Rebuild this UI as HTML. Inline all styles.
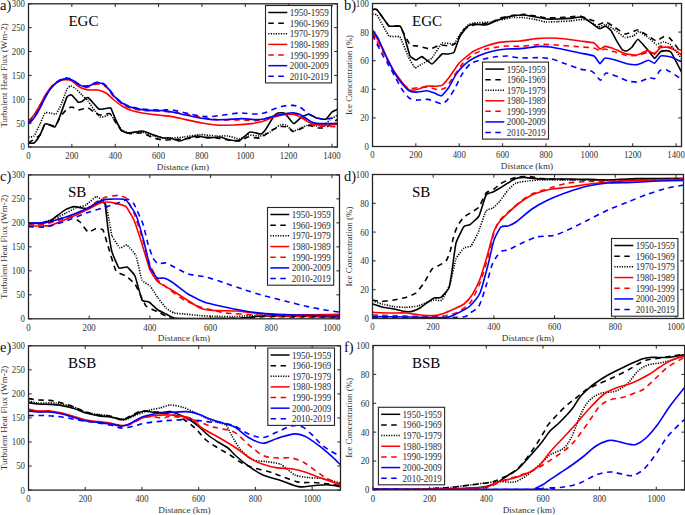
<!DOCTYPE html><html><head><meta charset="utf-8"><style>html,body{margin:0;padding:0;background:#fff;width:685px;height:515px;overflow:hidden}svg{display:block}</style></head><body>
<svg width="685" height="515" viewBox="0 0 685 515" font-family='"Liberation Serif", serif'>
<rect width="685" height="515" fill="#fff"/>
<clipPath id="clipa"><rect x="28.5" y="3.8" width="308.90" height="143.20"/></clipPath>
<g clip-path="url(#clipa)" fill="none" stroke-width="1.6" stroke-linejoin="round">
<path d="M28.40,143.00 C28.87,143.00 33.03,143.67 34.00,143.00 C34.97,142.33 39.08,136.58 40.00,135.00 C40.92,133.42 44.17,124.83 45.00,124.00 C45.83,123.17 49.17,124.75 50.00,125.00 C50.83,125.25 54.17,127.75 55.00,127.00 C55.83,126.25 59.00,118.50 60.00,116.00 C61.00,113.50 66.03,98.75 67.00,97.00 C67.97,95.25 70.68,94.58 71.60,95.00 C72.52,95.42 77.13,101.45 78.00,102.00 C78.87,102.55 81.17,101.97 82.00,101.60 C82.83,101.23 86.58,96.98 88.00,97.60 C89.42,98.22 97.25,108.13 99.00,109.00 C100.75,109.87 108.00,108.05 109.00,108.00 C110.00,107.95 110.50,107.57 111.00,108.40 C111.50,109.23 114.17,116.20 115.00,118.00 C115.83,119.80 119.92,128.75 121.00,130.00 C122.08,131.25 126.25,132.92 128.00,133.00 C129.75,133.08 139.83,130.83 142.00,131.00 C144.17,131.17 152.25,134.42 154.00,135.00 C155.75,135.58 161.67,137.75 163.00,138.00 C164.33,138.25 168.58,137.75 170.00,138.00 C171.42,138.25 178.50,141.00 180.00,141.00 C181.50,141.00 186.50,138.42 188.00,138.00 C189.50,137.58 196.33,136.00 198.00,136.00 C199.67,136.00 206.17,137.92 208.00,138.00 C209.83,138.08 218.17,136.83 220.00,137.00 C221.83,137.17 228.33,139.75 230.00,140.00 C231.67,140.25 238.33,140.67 240.00,140.00 C241.67,139.33 248.25,132.50 250.00,132.00 C251.75,131.50 259.67,134.25 261.00,134.00 C262.33,133.75 264.92,130.50 266.00,129.00 C267.08,127.50 273.00,117.33 274.00,116.00 C275.00,114.67 277.17,113.25 278.00,113.00 C278.83,112.75 283.22,112.72 284.00,113.00 C284.78,113.28 286.58,115.42 287.40,116.30 C288.22,117.17 292.67,123.40 293.80,123.50 C294.93,123.60 299.73,118.27 301.00,117.50 C302.27,116.73 307.66,114.23 309.00,114.30 C310.34,114.37 315.68,117.91 317.10,118.30 C318.52,118.69 324.79,119.50 326.00,119.00 C327.21,118.50 330.60,113.13 331.60,112.30 C332.60,111.47 337.47,109.28 338.00,109.00" stroke="#000"/>
<path d="M28.40,143.00 C29.37,142.33 38.62,136.58 40.00,135.00 C41.38,133.42 43.75,124.75 45.00,124.00 C46.25,123.25 53.67,126.67 55.00,126.00 C56.33,125.33 60.00,117.42 61.00,116.00 C62.00,114.58 66.08,109.75 67.00,109.00 C67.92,108.25 71.08,106.92 72.00,107.00 C72.92,107.08 76.67,109.92 78.00,110.00 C79.33,110.08 86.67,107.83 88.00,108.00 C89.33,108.17 93.00,111.42 94.00,112.00 C95.00,112.58 98.67,114.87 100.00,115.00 C101.33,115.13 108.67,112.93 110.00,113.60 C111.33,114.27 115.00,121.55 116.00,123.00 C117.00,124.45 120.83,130.12 122.00,131.00 C123.17,131.88 128.33,133.43 130.00,133.60 C131.67,133.77 140.00,132.63 142.00,133.00 C144.00,133.37 152.25,137.42 154.00,138.00 C155.75,138.58 161.50,139.87 163.00,140.00 C164.50,140.13 170.25,139.68 172.00,139.60 C173.75,139.52 181.67,139.22 184.00,139.00 C186.33,138.78 197.33,137.08 200.00,137.00 C202.67,136.92 213.50,137.72 216.00,138.00 C218.50,138.28 228.00,140.15 230.00,140.40 C232.00,140.65 238.50,141.28 240.00,141.00 C241.50,140.72 246.33,137.25 248.00,137.00 C249.67,136.75 258.00,138.58 260.00,138.00 C262.00,137.42 270.33,130.95 272.00,130.00 C273.67,129.05 278.67,126.85 280.00,126.60 C281.33,126.35 286.92,126.59 288.00,127.00 C289.08,127.41 291.92,131.36 293.00,131.50 C294.08,131.64 299.67,129.20 301.00,128.70 C302.33,128.20 307.52,125.56 309.00,125.50 C310.48,125.44 317.28,127.83 318.70,128.00 C320.12,128.17 324.89,127.92 326.00,127.50 C327.11,127.08 331.00,123.71 332.00,123.00 C333.00,122.29 337.50,119.33 338.00,119.00" stroke="#000" stroke-dasharray="5.5,4.5"/>
<path d="M28.40,137.00 C28.87,136.92 33.03,137.08 34.00,136.00 C34.97,134.92 39.08,125.92 40.00,124.00 C40.92,122.08 44.17,113.92 45.00,113.00 C45.83,112.08 49.08,112.92 50.00,113.00 C50.92,113.08 55.08,114.67 56.00,114.00 C56.92,113.33 60.08,107.08 61.00,105.00 C61.92,102.92 66.17,90.58 67.00,89.00 C67.83,87.42 70.25,86.00 71.00,86.00 C71.75,86.00 75.08,88.25 76.00,89.00 C76.92,89.75 81.00,94.00 82.00,95.00 C83.00,96.00 86.92,99.67 88.00,101.00 C89.08,102.33 94.00,109.67 95.00,111.00 C96.00,112.33 99.08,116.58 100.00,117.00 C100.92,117.42 105.17,116.25 106.00,116.00 C106.83,115.75 109.17,113.50 110.00,114.00 C110.83,114.50 115.00,120.67 116.00,122.00 C117.00,123.33 120.83,129.08 122.00,130.00 C123.17,130.92 128.33,132.83 130.00,133.00 C131.67,133.17 140.00,131.75 142.00,132.00 C144.00,132.25 152.25,135.50 154.00,136.00 C155.75,136.50 161.50,137.83 163.00,138.00 C164.50,138.17 170.25,138.08 172.00,138.00 C173.75,137.92 181.67,137.28 184.00,137.00 C186.33,136.72 197.33,134.68 200.00,134.60 C202.67,134.52 213.67,135.88 216.00,136.00 C218.33,136.12 226.00,135.75 228.00,136.00 C230.00,136.25 238.33,139.08 240.00,139.00 C241.67,138.92 246.33,135.25 248.00,135.00 C249.67,134.75 258.17,136.25 260.00,136.00 C261.83,135.75 268.33,132.92 270.00,132.00 C271.67,131.08 278.67,125.58 280.00,125.00 C281.33,124.42 284.92,124.49 286.00,125.00 C287.08,125.51 291.75,130.86 293.00,131.10 C294.25,131.34 299.67,128.43 301.00,127.90 C302.33,127.37 307.66,124.87 309.00,124.70 C310.34,124.53 315.75,125.97 317.10,125.90 C318.45,125.83 324.12,124.40 325.20,123.90 C326.27,123.40 328.93,120.68 330.00,119.90 C331.07,119.12 337.33,114.95 338.00,114.50" stroke="#000" stroke-dasharray="1.2,1.3"/>
<path d="M28.40,121.00 C29.33,120.00 32.07,117.67 34.00,115.00 C35.93,112.33 38.00,108.50 40.00,105.00 C42.00,101.50 44.00,97.17 46.00,94.00 C48.00,90.83 49.83,88.17 52.00,86.00 C54.17,83.83 56.67,82.07 59.00,81.00 C61.33,79.93 63.83,79.60 66.00,79.60 C68.17,79.60 70.00,79.93 72.00,81.00 C74.00,82.07 76.00,84.67 78.00,86.00 C80.00,87.33 82.00,88.33 84.00,89.00 C86.00,89.67 87.67,89.83 90.00,90.00 C92.33,90.17 95.33,89.50 98.00,90.00 C100.67,90.50 103.33,91.33 106.00,93.00 C108.67,94.67 111.33,97.83 114.00,100.00 C116.67,102.17 119.33,104.33 122.00,106.00 C124.67,107.67 126.67,108.83 130.00,110.00 C133.33,111.17 138.00,112.23 142.00,113.00 C146.00,113.77 150.50,114.17 154.00,114.60 C157.50,115.03 160.00,115.27 163.00,115.60 C166.00,115.93 168.17,115.93 172.00,116.60 C175.83,117.27 181.33,118.60 186.00,119.60 C190.67,120.60 195.00,121.70 200.00,122.60 C205.00,123.50 210.33,124.60 216.00,125.00 C221.67,125.40 228.00,125.23 234.00,125.00 C240.00,124.77 247.00,124.27 252.00,123.60 C257.00,122.93 260.33,122.10 264.00,121.00 C267.67,119.90 270.67,118.07 274.00,117.00 C277.33,115.93 280.83,115.05 284.00,114.60 C287.17,114.15 290.42,113.95 293.00,114.30 C295.58,114.65 297.22,115.57 299.50,116.70 C301.78,117.83 304.30,119.83 306.70,121.10 C309.10,122.37 310.82,123.63 313.90,124.30 C316.98,124.97 321.18,125.10 325.20,125.10 C329.22,125.10 335.87,124.43 338.00,124.30" stroke="#ff0000"/>
<path d="M28.40,122.00 C29.33,121.00 32.07,118.67 34.00,116.00 C35.93,113.33 38.00,109.50 40.00,106.00 C42.00,102.50 44.00,98.25 46.00,95.00 C48.00,91.75 49.83,88.83 52.00,86.50 C54.17,84.17 56.67,82.28 59.00,81.00 C61.33,79.72 63.83,78.88 66.00,78.80 C68.17,78.72 70.00,79.55 72.00,80.50 C74.00,81.45 76.00,83.33 78.00,84.50 C80.00,85.67 82.00,87.17 84.00,87.50 C86.00,87.83 87.67,87.08 90.00,86.50 C92.33,85.92 95.33,83.92 98.00,84.00 C100.67,84.08 103.33,84.83 106.00,87.00 C108.67,89.17 111.33,94.17 114.00,97.00 C116.67,99.83 119.33,102.17 122.00,104.00 C124.67,105.83 126.67,106.92 130.00,108.00 C133.33,109.08 137.00,110.00 142.00,110.50 C147.00,111.00 152.67,110.42 160.00,111.00 C167.33,111.58 179.33,113.00 186.00,114.00 C192.67,115.00 195.00,116.07 200.00,117.00 C205.00,117.93 209.33,119.10 216.00,119.60 C222.67,120.10 233.33,119.83 240.00,120.00 C246.67,120.17 251.33,120.93 256.00,120.60 C260.67,120.27 264.00,118.93 268.00,118.00 C272.00,117.07 276.33,115.73 280.00,115.00 C283.67,114.27 286.75,113.52 290.00,113.60 C293.25,113.68 296.83,114.43 299.50,115.50 C302.17,116.57 303.60,118.33 306.00,120.00 C308.40,121.67 310.70,124.45 313.90,125.50 C317.10,126.55 321.18,126.10 325.20,126.30 C329.22,126.50 335.87,126.63 338.00,126.70" stroke="#ff0000" stroke-dasharray="5.5,4.5"/>
<path d="M28.40,124.00 C29.33,123.00 32.07,120.67 34.00,118.00 C35.93,115.33 38.00,111.67 40.00,108.00 C42.00,104.33 44.00,99.50 46.00,96.00 C48.00,92.50 49.83,89.50 52.00,87.00 C54.17,84.50 56.67,82.40 59.00,81.00 C61.33,79.60 63.83,78.77 66.00,78.60 C68.17,78.43 70.00,79.10 72.00,80.00 C74.00,80.90 76.00,82.90 78.00,84.00 C80.00,85.10 82.00,86.33 84.00,86.60 C86.00,86.87 87.67,86.27 90.00,85.60 C92.33,84.93 95.33,82.53 98.00,82.60 C100.67,82.67 103.33,83.77 106.00,86.00 C108.67,88.23 111.33,93.17 114.00,96.00 C116.67,98.83 119.33,101.17 122.00,103.00 C124.67,104.83 126.67,105.90 130.00,107.00 C133.33,108.10 138.00,109.00 142.00,109.60 C146.00,110.20 150.50,110.43 154.00,110.60 C157.50,110.77 160.00,110.37 163.00,110.60 C166.00,110.83 168.17,111.27 172.00,112.00 C175.83,112.73 181.33,114.00 186.00,115.00 C190.67,116.00 195.67,117.23 200.00,118.00 C204.33,118.77 207.67,119.33 212.00,119.60 C216.33,119.87 221.00,119.77 226.00,119.60 C231.00,119.43 237.33,118.60 242.00,118.60 C246.67,118.60 250.33,119.53 254.00,119.60 C257.67,119.67 260.67,119.60 264.00,119.00 C267.33,118.40 270.67,116.83 274.00,116.00 C277.33,115.17 280.83,114.55 284.00,114.00 C287.17,113.45 290.42,112.65 293.00,112.70 C295.58,112.75 297.35,113.37 299.50,114.30 C301.65,115.23 303.90,117.03 305.90,118.30 C307.90,119.57 309.37,121.03 311.50,121.90 C313.63,122.77 314.28,123.23 318.70,123.50 C323.12,123.77 334.78,123.50 338.00,123.50" stroke="#0000ff"/>
<path d="M28.40,123.50 C29.33,122.50 32.07,120.17 34.00,117.50 C35.93,114.83 38.00,111.17 40.00,107.50 C42.00,103.83 44.00,99.00 46.00,95.50 C48.00,92.00 49.83,89.00 52.00,86.50 C54.17,84.00 56.67,81.92 59.00,80.50 C61.33,79.08 63.83,78.17 66.00,78.00 C68.17,77.83 70.00,78.58 72.00,79.50 C74.00,80.42 76.00,82.42 78.00,83.50 C80.00,84.58 82.00,85.75 84.00,86.00 C86.00,86.25 87.67,85.67 90.00,85.00 C92.33,84.33 95.33,81.92 98.00,82.00 C100.67,82.08 103.33,83.25 106.00,85.50 C108.67,87.75 111.33,92.67 114.00,95.50 C116.67,98.33 119.33,100.67 122.00,102.50 C124.67,104.33 126.67,105.42 130.00,106.50 C133.33,107.58 137.00,108.42 142.00,109.00 C147.00,109.58 155.00,109.83 160.00,110.00 C165.00,110.17 167.67,109.50 172.00,110.00 C176.33,110.50 181.33,112.00 186.00,113.00 C190.67,114.00 196.00,115.40 200.00,116.00 C204.00,116.60 206.00,116.77 210.00,116.60 C214.00,116.43 219.00,115.60 224.00,115.00 C229.00,114.40 235.00,113.17 240.00,113.00 C245.00,112.83 250.00,114.00 254.00,114.00 C258.00,114.00 260.67,113.83 264.00,113.00 C267.33,112.17 270.67,110.17 274.00,109.00 C277.33,107.83 280.83,106.60 284.00,106.00 C287.17,105.40 290.42,105.23 293.00,105.40 C295.58,105.57 297.62,106.18 299.50,107.00 C301.38,107.82 302.72,109.08 304.30,110.30 C305.88,111.52 306.60,112.97 309.00,114.30 C311.40,115.63 315.87,117.52 318.70,118.30 C321.53,119.08 323.58,119.13 326.00,119.00 C328.42,118.87 331.20,118.08 333.20,117.50 C335.20,116.92 337.20,115.83 338.00,115.50" stroke="#0000ff" stroke-dasharray="5.5,4.5"/>
</g>
<text x="28.50" y="158.80" font-size="9.6" text-anchor="middle" textLength="4.38" lengthAdjust="spacingAndGlyphs" fill="#333">0</text>
<text x="71.85" y="158.80" font-size="9.6" text-anchor="middle" textLength="13.14" lengthAdjust="spacingAndGlyphs" fill="#333">200</text>
<text x="115.21" y="158.80" font-size="9.6" text-anchor="middle" textLength="13.14" lengthAdjust="spacingAndGlyphs" fill="#333">400</text>
<text x="158.56" y="158.80" font-size="9.6" text-anchor="middle" textLength="13.14" lengthAdjust="spacingAndGlyphs" fill="#333">600</text>
<text x="201.92" y="158.80" font-size="9.6" text-anchor="middle" textLength="13.14" lengthAdjust="spacingAndGlyphs" fill="#333">800</text>
<text x="245.27" y="158.80" font-size="9.6" text-anchor="middle" textLength="17.52" lengthAdjust="spacingAndGlyphs" fill="#333">1000</text>
<text x="288.63" y="158.80" font-size="9.6" text-anchor="middle" textLength="17.52" lengthAdjust="spacingAndGlyphs" fill="#333">1200</text>
<text x="331.98" y="158.80" font-size="9.6" text-anchor="middle" textLength="17.52" lengthAdjust="spacingAndGlyphs" fill="#333">1400</text>
<text x="25.00" y="150.40" font-size="9.6" text-anchor="end" textLength="4.38" lengthAdjust="spacingAndGlyphs" fill="#333">0</text>
<text x="25.00" y="126.53" font-size="9.6" text-anchor="end" textLength="8.76" lengthAdjust="spacingAndGlyphs" fill="#333">50</text>
<text x="25.00" y="102.67" font-size="9.6" text-anchor="end" textLength="13.14" lengthAdjust="spacingAndGlyphs" fill="#333">100</text>
<text x="25.00" y="78.80" font-size="9.6" text-anchor="end" textLength="13.14" lengthAdjust="spacingAndGlyphs" fill="#333">150</text>
<text x="25.00" y="54.93" font-size="9.6" text-anchor="end" textLength="13.14" lengthAdjust="spacingAndGlyphs" fill="#333">200</text>
<text x="25.00" y="31.07" font-size="9.6" text-anchor="end" textLength="13.14" lengthAdjust="spacingAndGlyphs" fill="#333">250</text>
<text x="25.00" y="7.20" font-size="9.6" text-anchor="end" textLength="13.14" lengthAdjust="spacingAndGlyphs" fill="#333">300</text>
<path d="M28.50,147.00V143.80M28.50,3.80V7.00M71.85,147.00V143.80M71.85,3.80V7.00M115.21,147.00V143.80M115.21,3.80V7.00M158.56,147.00V143.80M158.56,3.80V7.00M201.92,147.00V143.80M201.92,3.80V7.00M245.27,147.00V143.80M245.27,3.80V7.00M288.63,147.00V143.80M288.63,3.80V7.00M331.98,147.00V143.80M331.98,3.80V7.00M28.50,147.00H31.70M337.40,147.00H334.20M28.50,123.13H31.70M337.40,123.13H334.20M28.50,99.27H31.70M337.40,99.27H334.20M28.50,75.40H31.70M337.40,75.40H334.20M28.50,51.53H31.70M337.40,51.53H334.20M28.50,27.67H31.70M337.40,27.67H334.20M28.50,3.80H31.70M337.40,3.80H334.20" stroke="#262626" stroke-width="1" fill="none"/>
<rect x="28.5" y="3.8" width="308.90" height="143.20" fill="none" stroke="#262626" stroke-width="1.3"/>
<text x="182.95" y="169.60" font-size="9.2" text-anchor="middle" fill="#333">Distance (km)</text>
<text transform="translate(6.70,75.40) rotate(-90)" font-size="9" text-anchor="middle" fill="#333">Turbulent Heat Flux (Wm-2)</text>
<rect x="265.5" y="5.5" width="66.00" height="77.40" fill="#fff" stroke="#262626" stroke-width="1.1"/>
<path d="M268.30,12.50H287.30" stroke="#000" stroke-width="1.5"/>
<text x="289.70" y="16.00" font-size="10.2" textLength="39.2" lengthAdjust="spacingAndGlyphs" fill="#2a2a2a">1950-1959</text>
<path d="M268.30,23.13H287.30" stroke="#000" stroke-width="1.5" stroke-dasharray="5.5,4.5"/>
<text x="289.70" y="26.63" font-size="10.2" textLength="39.2" lengthAdjust="spacingAndGlyphs" fill="#2a2a2a">1960-1969</text>
<path d="M268.30,33.77H287.30" stroke="#000" stroke-width="1.5" stroke-dasharray="1.2,1.3"/>
<text x="289.70" y="37.27" font-size="10.2" textLength="39.2" lengthAdjust="spacingAndGlyphs" fill="#2a2a2a">1970-1979</text>
<path d="M268.30,44.40H287.30" stroke="#ff0000" stroke-width="1.5"/>
<text x="289.70" y="47.90" font-size="10.2" textLength="39.2" lengthAdjust="spacingAndGlyphs" fill="#2a2a2a">1980-1989</text>
<path d="M268.30,55.03H287.30" stroke="#ff0000" stroke-width="1.5" stroke-dasharray="5.5,4.5"/>
<text x="289.70" y="58.53" font-size="10.2" textLength="39.2" lengthAdjust="spacingAndGlyphs" fill="#2a2a2a">1990-1999</text>
<path d="M268.30,65.67H287.30" stroke="#0000ff" stroke-width="1.5"/>
<text x="289.70" y="69.17" font-size="10.2" textLength="39.2" lengthAdjust="spacingAndGlyphs" fill="#2a2a2a">2000-2009</text>
<path d="M268.30,76.30H287.30" stroke="#0000ff" stroke-width="1.5" stroke-dasharray="5.5,4.5"/>
<text x="289.70" y="79.80" font-size="10.2" textLength="39.2" lengthAdjust="spacingAndGlyphs" fill="#2a2a2a">2010-2019</text>
<clipPath id="clipb"><rect x="372.5" y="3.5" width="309.00" height="143.00"/></clipPath>
<g clip-path="url(#clipb)" fill="none" stroke-width="1.6" stroke-linejoin="round">
<path d="M372.40,9.60 C372.63,9.60 376.17,8.78 377.00,9.60 C377.83,10.42 387.85,25.18 389.00,26.00 C390.15,26.82 399.25,25.55 400.00,26.00 C400.75,26.45 403.50,33.50 404.00,35.00 C404.50,36.50 409.40,54.75 410.00,56.00 C410.60,57.25 415.40,59.97 416.00,60.00 C416.60,60.03 421.20,56.40 422.00,56.60 C422.80,56.80 431.00,64.13 432.00,64.00 C433.00,63.87 441.20,54.50 442.00,54.00 C442.80,53.50 447.40,54.08 448.00,54.00 C448.60,53.92 453.40,53.30 454.00,52.40 C454.60,51.50 459.30,37.32 460.00,36.00 C460.70,34.68 467.30,26.60 468.00,26.00 C468.70,25.40 473.10,24.05 474.00,24.00 C474.90,23.95 484.80,25.20 486.00,25.00 C487.20,24.80 496.70,20.45 498.00,20.00 C499.30,19.55 510.70,16.25 512.00,16.00 C513.30,15.75 522.80,14.95 524.00,15.00 C525.20,15.05 534.90,16.80 536.00,17.00 C537.10,17.20 544.90,18.90 546.00,19.00 C547.10,19.10 556.80,19.03 558.00,19.00 C559.20,18.97 568.90,18.50 570.00,18.40 C571.10,18.30 579.20,16.97 580.00,17.00 C580.80,17.03 585.30,18.60 586.00,19.00 C586.70,19.40 593.32,24.51 594.00,25.00 C594.68,25.49 599.01,28.74 599.60,28.80 C600.19,28.86 605.13,26.11 605.70,26.20 C606.27,26.29 610.48,29.90 611.00,30.60 C611.52,31.30 615.63,39.24 616.20,40.20 C616.77,41.16 621.77,49.26 622.30,49.80 C622.82,50.34 626.22,51.13 626.70,51.00 C627.18,50.87 631.34,47.79 631.90,47.20 C632.46,46.62 637.22,39.17 638.00,39.30 C638.78,39.43 646.77,48.84 647.60,49.80 C648.43,50.76 653.95,58.41 654.60,58.50 C655.25,58.59 660.09,51.90 660.70,51.50 C661.31,51.10 666.27,50.55 666.80,50.60 C667.32,50.65 670.44,51.28 671.20,52.40 C671.96,53.52 681.46,71.97 682.00,73.00" stroke="#000"/>
<path d="M372.40,9.60 C372.63,9.60 376.17,8.78 377.00,9.60 C377.83,10.42 387.85,25.16 389.00,26.00 C390.15,26.84 398.95,25.55 400.00,26.50 C401.05,27.45 409.10,44.02 410.00,45.00 C410.90,45.98 417.00,45.80 418.00,46.00 C419.00,46.20 428.90,49.05 430.00,49.00 C431.10,48.95 439.00,45.15 440.00,45.00 C441.00,44.85 449.20,46.10 450.00,46.00 C450.80,45.90 455.30,43.85 456.00,43.00 C456.70,42.15 463.10,29.90 464.00,29.00 C464.90,28.10 472.70,25.30 474.00,25.00 C475.30,24.70 488.70,23.35 490.00,23.00 C491.30,22.65 498.90,18.37 500.00,18.00 C501.10,17.63 510.80,15.78 512.00,15.60 C513.20,15.42 522.80,14.38 524.00,14.40 C525.20,14.42 534.90,15.82 536.00,16.00 C537.10,16.18 544.90,17.92 546.00,18.00 C547.10,18.08 556.80,17.65 558.00,17.60 C559.20,17.55 568.90,17.08 570.00,17.00 C571.10,16.92 579.20,15.95 580.00,16.00 C580.80,16.05 585.30,17.75 586.00,18.00 C586.70,18.25 593.37,20.68 594.00,21.00 C594.63,21.32 598.12,24.46 598.70,24.50 C599.29,24.54 604.91,21.67 605.70,21.80 C606.49,21.93 613.54,26.49 614.50,27.10 C615.46,27.71 624.03,33.74 624.90,34.00 C625.77,34.26 631.25,32.52 631.90,32.30 C632.55,32.08 637.12,29.48 638.00,29.70 C638.88,29.92 648.48,36.14 649.40,36.70 C650.32,37.27 655.69,41.00 656.40,41.00 C657.11,41.00 662.88,36.88 663.50,36.70 C664.12,36.53 668.38,37.20 668.90,37.50 C669.41,37.80 673.14,41.95 673.80,42.80 C674.45,43.65 681.59,53.91 682.00,54.50" stroke="#000" stroke-dasharray="5.5,4.5"/>
<path d="M372.40,14.00 C372.63,14.05 376.17,13.90 377.00,15.00 C377.83,16.10 387.85,34.90 389.00,36.00 C390.15,37.10 399.05,36.00 400.00,37.00 C400.95,38.00 407.25,54.45 408.00,56.00 C408.75,57.55 414.30,67.60 415.00,68.00 C415.70,68.40 421.15,64.50 422.00,64.00 C422.85,63.50 431.00,59.05 432.00,58.00 C433.00,56.95 440.90,43.70 442.00,43.00 C443.10,42.30 453.10,44.45 454.00,44.00 C454.90,43.55 459.30,34.95 460.00,34.00 C460.70,33.05 467.30,25.55 468.00,25.00 C468.70,24.45 472.90,23.15 474.00,23.00 C475.10,22.85 488.70,22.15 490.00,22.00 C491.30,21.85 498.90,20.22 500.00,20.00 C501.10,19.78 510.80,17.72 512.00,17.60 C513.20,17.48 522.80,17.50 524.00,17.60 C525.20,17.70 534.90,19.38 536.00,19.60 C537.10,19.82 544.90,21.90 546.00,22.00 C547.10,22.10 556.80,21.65 558.00,21.60 C559.20,21.55 568.90,21.10 570.00,21.00 C571.10,20.90 579.20,19.65 580.00,19.60 C580.80,19.55 585.30,19.78 586.00,20.00 C586.70,20.22 593.37,23.64 594.00,24.00 C594.63,24.36 598.12,27.08 598.70,27.10 C599.29,27.12 604.91,24.37 605.70,24.50 C606.49,24.63 613.54,29.05 614.50,29.70 C615.46,30.35 623.94,37.20 624.90,37.50 C625.86,37.80 633.00,36.10 633.70,35.80 C634.40,35.49 638.12,31.27 638.90,31.40 C639.68,31.53 648.52,37.74 649.40,38.40 C650.27,39.05 655.69,44.33 656.40,44.50 C657.11,44.67 662.80,41.90 663.50,41.90 C664.20,41.90 669.38,43.65 670.30,44.50 C671.22,45.35 681.41,58.27 682.00,59.00" stroke="#000" stroke-dasharray="1.2,1.3"/>
<path d="M372.40,32.00 C372.87,32.67 376.87,38.00 378.00,40.00 C379.13,42.00 384.67,53.42 386.00,56.00 C387.33,58.58 392.68,68.84 394.00,71.00 C395.32,73.16 400.63,80.33 401.90,81.90 C403.17,83.48 407.86,89.29 409.20,89.90 C410.54,90.51 416.54,89.53 418.00,89.20 C419.46,88.88 425.24,86.24 426.70,86.00 C428.16,85.76 434.16,86.40 435.50,86.30 C436.84,86.20 441.58,85.65 442.80,84.80 C444.02,83.95 448.77,77.87 450.10,76.10 C451.43,74.33 457.48,65.19 458.80,63.60 C460.12,62.01 464.73,58.05 466.00,57.00 C467.27,55.95 472.33,51.92 474.00,51.00 C475.67,50.08 484.00,46.70 486.00,46.00 C488.00,45.30 496.25,42.97 498.00,42.60 C499.75,42.23 505.17,41.73 507.00,41.60 C508.83,41.47 517.58,41.25 520.00,41.00 C522.42,40.75 533.50,38.85 536.00,38.60 C538.50,38.35 547.50,37.97 550.00,38.00 C552.50,38.03 563.50,38.75 566.00,39.00 C568.50,39.25 577.67,40.67 580.00,41.00 C582.33,41.33 592.33,42.33 594.00,43.00 C595.67,43.67 599.08,48.72 600.00,49.00 C600.92,49.28 604.00,46.48 605.00,46.40 C606.00,46.32 611.07,47.72 612.00,48.00 C612.93,48.28 614.98,49.29 616.20,49.80 C617.43,50.31 624.95,53.67 626.70,54.10 C628.45,54.53 635.46,55.29 637.20,55.00 C638.94,54.71 646.15,50.68 647.60,50.60 C649.05,50.52 653.58,54.32 654.60,54.10 C655.62,53.88 658.88,48.58 659.90,48.00 C660.92,47.42 665.49,46.98 666.80,47.20 C668.11,47.42 674.33,49.95 675.60,50.60 C676.87,51.25 681.47,54.63 682.00,55.00" stroke="#ff0000"/>
<path d="M372.40,33.00 C373.53,35.08 384.20,54.75 386.00,58.00 C387.80,61.25 392.68,69.88 394.00,72.00 C395.32,74.12 400.63,82.03 401.90,83.40 C403.17,84.78 407.86,88.14 409.20,88.50 C410.54,88.86 416.42,87.83 418.00,87.70 C419.58,87.58 426.50,86.82 428.20,87.00 C429.90,87.18 436.94,89.84 438.40,89.90 C439.86,89.96 444.48,88.73 445.70,87.70 C446.92,86.67 451.54,79.57 453.00,77.50 C454.46,75.43 461.45,64.86 463.20,62.90 C464.95,60.94 472.10,55.16 474.00,54.00 C475.90,52.84 484.00,49.58 486.00,49.00 C488.00,48.42 496.25,47.25 498.00,47.00 C499.75,46.75 505.17,46.05 507.00,46.00 C508.83,45.95 517.25,46.53 520.00,46.40 C522.75,46.27 537.00,44.52 540.00,44.40 C543.00,44.28 553.17,44.83 556.00,45.00 C558.83,45.17 570.83,46.15 574.00,46.40 C577.17,46.65 591.83,47.62 594.00,48.00 C596.17,48.38 599.08,50.92 600.00,51.00 C600.92,51.08 603.65,48.88 605.00,49.00 C606.35,49.12 614.39,51.86 616.20,52.40 C618.01,52.94 624.95,55.24 626.70,55.50 C628.45,55.76 635.46,55.76 637.20,55.50 C638.94,55.24 646.15,52.58 647.60,52.40 C649.05,52.22 653.58,53.81 654.60,53.30 C655.62,52.79 658.59,46.81 659.90,46.30 C661.21,45.79 668.46,46.84 670.30,47.20 C672.14,47.56 681.02,50.32 682.00,50.60" stroke="#ff0000" stroke-dasharray="5.5,4.5"/>
<path d="M372.40,30.00 C372.87,30.67 376.87,35.83 378.00,38.00 C379.13,40.17 384.62,53.08 386.00,56.00 C387.38,58.92 393.28,70.82 394.60,73.10 C395.93,75.38 400.68,81.93 401.90,83.40 C403.12,84.87 407.98,89.98 409.20,90.70 C410.42,91.42 415.04,92.10 416.50,92.10 C417.96,92.10 425.24,90.64 426.70,90.70 C428.16,90.76 432.78,92.38 434.00,92.80 C435.22,93.22 440.08,96.22 441.30,95.80 C442.52,95.38 447.38,89.47 448.60,87.70 C449.82,85.93 454.56,76.54 455.90,74.60 C457.24,72.66 463.19,65.78 464.70,64.40 C466.21,63.02 472.23,58.95 474.00,58.00 C475.77,57.05 484.00,53.67 486.00,53.00 C488.00,52.33 496.25,50.33 498.00,50.00 C499.75,49.67 505.17,49.12 507.00,49.00 C508.83,48.88 517.25,48.82 520.00,48.60 C522.75,48.38 537.50,46.53 540.00,46.40 C542.50,46.27 547.83,46.70 550.00,47.00 C552.17,47.30 563.50,49.50 566.00,50.00 C568.50,50.50 577.67,52.50 580.00,53.00 C582.33,53.50 592.33,55.12 594.00,56.00 C595.67,56.88 599.08,63.43 600.00,63.60 C600.92,63.77 603.65,58.27 605.00,58.00 C606.35,57.73 614.39,59.82 616.20,60.30 C618.01,60.77 624.95,63.34 626.70,63.70 C628.45,64.06 635.38,64.88 637.20,64.60 C639.02,64.32 647.05,60.42 648.50,60.30 C649.95,60.18 653.58,63.57 654.60,63.20 C655.62,62.83 659.39,56.43 660.70,55.90 C662.01,55.37 668.52,56.29 670.30,56.80 C672.07,57.31 681.02,61.57 682.00,62.00" stroke="#0000ff"/>
<path d="M372.40,35.00 C373.20,36.58 380.76,51.67 382.00,54.00 C383.24,56.33 386.25,61.07 387.30,62.90 C388.35,64.73 393.38,73.81 394.60,76.00 C395.82,78.19 400.68,87.37 401.90,89.20 C403.12,91.03 407.98,97.09 409.20,98.00 C410.42,98.91 414.92,99.98 416.50,100.10 C418.08,100.22 426.13,99.09 428.20,99.40 C430.27,99.71 439.72,103.74 441.30,103.80 C442.88,103.86 446.10,101.32 447.20,100.10 C448.30,98.88 453.28,91.33 454.50,89.20 C455.72,87.08 460.47,76.73 461.80,74.60 C463.13,72.47 468.98,64.82 470.50,63.60 C472.02,62.38 478.04,60.55 480.00,60.00 C481.96,59.45 491.75,57.33 494.00,57.00 C496.25,56.67 504.83,55.92 507.00,56.00 C509.17,56.08 517.25,57.87 520.00,58.00 C522.75,58.13 537.33,57.52 540.00,57.60 C542.67,57.68 549.83,58.47 552.00,59.00 C554.17,59.53 563.67,63.17 566.00,64.00 C568.33,64.83 578.00,68.44 580.00,69.00 C582.00,69.56 588.83,70.37 590.00,70.70 C591.17,71.03 593.12,72.20 594.00,73.00 C594.88,73.80 599.50,80.30 600.50,80.30 C601.50,80.30 604.55,73.29 606.00,73.00 C607.45,72.71 616.03,76.12 617.90,76.80 C619.77,77.48 626.65,80.76 628.40,81.20 C630.15,81.64 637.15,82.39 638.90,82.10 C640.65,81.81 648.09,77.99 649.40,77.70 C650.71,77.41 653.73,79.18 654.60,78.60 C655.48,78.02 658.88,71.42 659.90,70.70 C660.92,69.98 664.96,69.17 666.80,69.90 C668.64,70.63 680.73,78.70 682.00,79.50" stroke="#0000ff" stroke-dasharray="5.5,4.5"/>
</g>
<text x="372.50" y="158.30" font-size="9.6" text-anchor="middle" textLength="4.38" lengthAdjust="spacingAndGlyphs" fill="#333">0</text>
<text x="415.87" y="158.30" font-size="9.6" text-anchor="middle" textLength="13.14" lengthAdjust="spacingAndGlyphs" fill="#333">200</text>
<text x="459.24" y="158.30" font-size="9.6" text-anchor="middle" textLength="13.14" lengthAdjust="spacingAndGlyphs" fill="#333">400</text>
<text x="502.61" y="158.30" font-size="9.6" text-anchor="middle" textLength="13.14" lengthAdjust="spacingAndGlyphs" fill="#333">600</text>
<text x="545.97" y="158.30" font-size="9.6" text-anchor="middle" textLength="13.14" lengthAdjust="spacingAndGlyphs" fill="#333">800</text>
<text x="589.34" y="158.30" font-size="9.6" text-anchor="middle" textLength="17.52" lengthAdjust="spacingAndGlyphs" fill="#333">1000</text>
<text x="632.71" y="158.30" font-size="9.6" text-anchor="middle" textLength="17.52" lengthAdjust="spacingAndGlyphs" fill="#333">1200</text>
<text x="676.08" y="158.30" font-size="9.6" text-anchor="middle" textLength="17.52" lengthAdjust="spacingAndGlyphs" fill="#333">1400</text>
<text x="369.00" y="149.90" font-size="9.6" text-anchor="end" textLength="4.38" lengthAdjust="spacingAndGlyphs" fill="#333">0</text>
<text x="369.00" y="121.30" font-size="9.6" text-anchor="end" textLength="8.76" lengthAdjust="spacingAndGlyphs" fill="#333">20</text>
<text x="369.00" y="92.70" font-size="9.6" text-anchor="end" textLength="8.76" lengthAdjust="spacingAndGlyphs" fill="#333">40</text>
<text x="369.00" y="64.10" font-size="9.6" text-anchor="end" textLength="8.76" lengthAdjust="spacingAndGlyphs" fill="#333">60</text>
<text x="369.00" y="35.50" font-size="9.6" text-anchor="end" textLength="8.76" lengthAdjust="spacingAndGlyphs" fill="#333">80</text>
<text x="369.00" y="6.90" font-size="9.6" text-anchor="end" textLength="13.14" lengthAdjust="spacingAndGlyphs" fill="#333">100</text>
<path d="M372.50,146.50V143.30M372.50,3.50V6.70M415.87,146.50V143.30M415.87,3.50V6.70M459.24,146.50V143.30M459.24,3.50V6.70M502.61,146.50V143.30M502.61,3.50V6.70M545.97,146.50V143.30M545.97,3.50V6.70M589.34,146.50V143.30M589.34,3.50V6.70M632.71,146.50V143.30M632.71,3.50V6.70M676.08,146.50V143.30M676.08,3.50V6.70M372.50,146.50H375.70M681.50,146.50H678.30M372.50,117.90H375.70M681.50,117.90H678.30M372.50,89.30H375.70M681.50,89.30H678.30M372.50,60.70H375.70M681.50,60.70H678.30M372.50,32.10H375.70M681.50,32.10H678.30M372.50,3.50H375.70M681.50,3.50H678.30" stroke="#262626" stroke-width="1" fill="none"/>
<rect x="372.5" y="3.5" width="309.00" height="143.00" fill="none" stroke="#262626" stroke-width="1.3"/>
<text x="527.00" y="169.10" font-size="9.2" text-anchor="middle" fill="#333">Distance (km)</text>
<text transform="translate(351.50,75.00) rotate(-90)" font-size="9" text-anchor="middle" fill="#333">Ice Concentration (%)</text>
<rect x="482.5" y="62.1" width="66.00" height="77.00" fill="#fff" stroke="#262626" stroke-width="1.1"/>
<path d="M485.30,69.10H504.30" stroke="#000" stroke-width="1.5"/>
<text x="506.70" y="72.60" font-size="10.2" textLength="39.2" lengthAdjust="spacingAndGlyphs" fill="#2a2a2a">1950-1959</text>
<path d="M485.30,79.67H504.30" stroke="#000" stroke-width="1.5" stroke-dasharray="5.5,4.5"/>
<text x="506.70" y="83.17" font-size="10.2" textLength="39.2" lengthAdjust="spacingAndGlyphs" fill="#2a2a2a">1960-1969</text>
<path d="M485.30,90.23H504.30" stroke="#000" stroke-width="1.5" stroke-dasharray="1.2,1.3"/>
<text x="506.70" y="93.73" font-size="10.2" textLength="39.2" lengthAdjust="spacingAndGlyphs" fill="#2a2a2a">1970-1979</text>
<path d="M485.30,100.80H504.30" stroke="#ff0000" stroke-width="1.5"/>
<text x="506.70" y="104.30" font-size="10.2" textLength="39.2" lengthAdjust="spacingAndGlyphs" fill="#2a2a2a">1980-1989</text>
<path d="M485.30,111.37H504.30" stroke="#ff0000" stroke-width="1.5" stroke-dasharray="5.5,4.5"/>
<text x="506.70" y="114.87" font-size="10.2" textLength="39.2" lengthAdjust="spacingAndGlyphs" fill="#2a2a2a">1990-1999</text>
<path d="M485.30,121.93H504.30" stroke="#0000ff" stroke-width="1.5"/>
<text x="506.70" y="125.43" font-size="10.2" textLength="39.2" lengthAdjust="spacingAndGlyphs" fill="#2a2a2a">2000-2009</text>
<path d="M485.30,132.50H504.30" stroke="#0000ff" stroke-width="1.5" stroke-dasharray="5.5,4.5"/>
<text x="506.70" y="136.00" font-size="10.2" textLength="39.2" lengthAdjust="spacingAndGlyphs" fill="#2a2a2a">2010-2019</text>
<clipPath id="clipc"><rect x="28.5" y="174.9" width="311.00" height="143.90"/></clipPath>
<g clip-path="url(#clipc)" fill="none" stroke-width="1.6" stroke-linejoin="round">
<path d="M28.40,223.00 C29.04,223.03 36.56,223.53 38.00,223.40 C39.44,223.27 48.67,221.56 50.00,221.00 C51.33,220.44 56.93,215.77 58.00,215.00 C59.07,214.23 64.93,209.96 66.00,209.40 C67.07,208.84 72.93,206.69 74.00,206.60 C75.07,206.51 81.07,207.87 82.00,208.00 C82.93,208.13 87.20,208.80 88.00,208.60 C88.80,208.40 93.20,205.44 94.00,205.00 C94.80,204.56 99.27,202.07 100.00,202.00 C100.73,201.93 104.47,202.20 105.00,204.00 C105.53,205.80 107.53,225.80 108.00,229.00 C108.47,232.20 111.27,249.40 112.00,252.00 C112.73,254.60 118.00,267.00 119.00,268.00 C120.00,269.00 125.93,266.47 127.00,267.00 C128.07,267.53 134.00,273.80 135.00,276.00 C136.00,278.20 141.07,298.27 142.00,300.00 C142.93,301.73 147.93,301.33 149.00,302.00 C150.07,302.67 156.87,309.20 158.00,310.00 C159.13,310.80 164.93,313.47 166.00,314.00 C167.07,314.53 171.73,317.70 174.00,318.00 C176.27,318.30 195.60,318.50 200.00,318.50 C204.40,318.50 235.87,318.17 240.00,318.00 C244.13,317.83 258.67,316.13 262.00,316.00 C265.33,315.87 284.87,315.93 290.00,316.00 C295.13,316.07 335.73,316.93 339.00,317.00" stroke="#000"/>
<path d="M28.40,224.00 C29.04,224.00 36.56,224.13 38.00,224.00 C39.44,223.87 48.40,222.40 50.00,222.00 C51.60,221.60 60.53,218.33 62.00,218.00 C63.47,217.67 70.80,216.73 72.00,217.00 C73.20,217.27 78.93,221.00 80.00,222.00 C81.07,223.00 86.93,231.56 88.00,232.00 C89.07,232.44 95.00,228.73 96.00,228.60 C97.00,228.47 102.20,228.84 103.00,230.00 C103.80,231.16 107.13,243.27 108.00,246.00 C108.87,248.73 114.80,269.00 116.00,271.00 C117.20,273.00 124.73,275.13 126.00,276.00 C127.27,276.87 134.07,282.80 135.00,284.00 C135.93,285.20 139.27,292.53 140.00,294.00 C140.73,295.47 144.80,304.80 146.00,306.00 C147.20,307.20 156.53,311.27 158.00,312.00 C159.47,312.73 166.80,316.53 168.00,317.00 C169.20,317.47 171.20,318.90 176.00,319.00 C180.80,319.10 234.07,318.67 240.00,318.50 C245.93,318.33 261.00,316.60 265.00,316.50 C269.00,316.40 295.07,316.97 300.00,317.00 C304.93,317.03 336.40,317.00 339.00,317.00" stroke="#000" stroke-dasharray="5.5,4.5"/>
<path d="M28.40,224.00 C29.31,223.91 40.16,223.00 42.00,222.60 C43.84,222.20 54.40,218.64 56.00,218.00 C57.60,217.36 64.67,213.67 66.00,213.00 C67.33,212.33 74.67,208.53 76.00,208.00 C77.33,207.47 84.67,205.76 86.00,205.00 C87.33,204.24 94.93,196.93 96.00,196.60 C97.07,196.27 101.33,199.44 102.00,200.00 C102.67,200.56 105.47,203.33 106.00,205.00 C106.53,206.67 109.60,222.93 110.00,225.00 C110.40,227.07 111.33,234.47 112.00,236.00 C112.67,237.53 119.00,247.40 120.00,248.00 C121.00,248.60 125.93,244.47 127.00,245.00 C128.07,245.53 135.00,253.67 136.00,256.00 C137.00,258.33 141.07,278.00 142.00,280.00 C142.93,282.00 148.93,284.80 150.00,286.00 C151.07,287.20 156.93,296.53 158.00,298.00 C159.07,299.47 164.93,307.00 166.00,308.00 C167.07,309.00 172.80,312.60 174.00,313.00 C175.20,313.40 182.27,313.83 184.00,314.00 C185.73,314.17 197.87,315.44 200.00,315.60 C202.13,315.76 213.53,316.35 216.00,316.40 C218.47,316.45 233.73,316.49 237.00,316.40 C240.27,316.31 260.80,315.03 265.00,315.00 C269.20,314.97 295.07,315.90 300.00,316.00 C304.93,316.10 336.40,316.47 339.00,316.50" stroke="#000" stroke-dasharray="1.2,1.3"/>
<path d="M28.40,226.00 C29.04,226.00 36.56,226.03 38.00,226.00 C39.44,225.97 48.40,225.93 50.00,225.60 C51.60,225.27 60.27,221.71 62.00,221.00 C63.73,220.29 74.27,215.77 76.00,215.00 C77.73,214.23 86.53,210.13 88.00,209.40 C89.47,208.67 96.80,204.49 98.00,204.00 C99.20,203.51 104.80,202.04 106.00,202.00 C107.20,201.96 114.67,203.09 116.00,203.40 C117.33,203.71 124.80,205.49 126.00,206.60 C127.20,207.71 132.93,217.51 134.00,220.00 C135.07,222.49 140.93,240.67 142.00,244.00 C143.07,247.33 148.93,267.47 150.00,270.00 C151.07,272.53 156.67,280.73 158.00,282.00 C159.33,283.27 168.27,287.93 170.00,289.00 C171.73,290.07 182.00,296.73 184.00,298.00 C186.00,299.27 198.13,307.17 200.00,308.00 C201.87,308.83 209.53,310.20 212.00,310.40 C214.47,310.60 234.13,310.83 237.00,311.00 C239.87,311.17 251.80,312.73 255.00,313.00 C258.20,313.27 279.40,314.91 285.00,315.00 C290.60,315.09 335.40,314.44 339.00,314.40" stroke="#ff0000"/>
<path d="M28.40,225.00 C29.57,224.93 43.49,224.47 46.00,224.00 C48.51,223.53 63.33,219.00 66.00,218.00 C68.67,217.00 83.87,210.13 86.00,209.00 C88.13,207.87 96.67,201.80 98.00,201.00 C99.33,200.20 104.67,197.37 106.00,197.00 C107.33,196.63 116.67,195.33 118.00,195.40 C119.33,195.47 124.93,196.83 126.00,198.00 C127.07,199.17 132.93,210.40 134.00,213.00 C135.07,215.60 140.93,233.53 142.00,237.00 C143.07,240.47 148.93,262.13 150.00,265.00 C151.07,267.87 156.67,278.33 158.00,280.00 C159.33,281.67 168.27,288.67 170.00,290.00 C171.73,291.33 182.00,298.87 184.00,300.00 C186.00,301.13 198.13,306.33 200.00,307.00 C201.87,307.67 210.33,309.60 212.00,310.00 C213.67,310.40 222.13,312.67 225.00,313.00 C227.87,313.33 251.00,314.77 255.00,315.00 C259.00,315.23 279.40,316.31 285.00,316.40 C290.60,316.49 335.40,316.40 339.00,316.40" stroke="#ff0000" stroke-dasharray="5.5,4.5"/>
<path d="M28.40,223.00 C29.57,222.97 43.49,223.00 46.00,222.60 C48.51,222.20 63.33,217.91 66.00,217.00 C68.67,216.09 83.87,210.00 86.00,209.00 C88.13,208.00 96.67,202.64 98.00,202.00 C99.33,201.36 104.67,199.60 106.00,199.40 C107.33,199.20 116.67,198.96 118.00,199.00 C119.33,199.04 124.80,198.93 126.00,200.00 C127.20,201.07 134.80,212.20 136.00,215.00 C137.20,217.80 143.07,238.53 144.00,242.00 C144.93,245.47 149.13,264.60 150.00,267.00 C150.87,269.40 156.07,277.27 157.00,278.00 C157.93,278.73 163.00,277.73 164.00,278.00 C165.00,278.27 170.40,280.93 172.00,282.00 C173.60,283.07 185.87,292.67 188.00,294.00 C190.13,295.33 201.87,301.20 204.00,302.00 C206.13,302.80 217.27,305.40 220.00,306.00 C222.73,306.60 242.00,310.49 245.00,311.00 C248.00,311.51 261.67,313.33 265.00,313.60 C268.33,313.87 290.07,314.84 295.00,315.00 C299.93,315.16 336.07,315.93 339.00,316.00" stroke="#0000ff"/>
<path d="M28.40,226.60 C29.57,226.63 43.49,227.37 46.00,227.00 C48.51,226.63 63.33,221.93 66.00,221.00 C68.67,220.07 83.33,213.93 86.00,213.00 C88.67,212.07 103.87,207.67 106.00,207.00 C108.13,206.33 116.53,203.51 118.00,203.00 C119.47,202.49 126.93,199.33 128.00,199.40 C129.07,199.47 133.00,202.36 134.00,204.00 C135.00,205.64 142.07,221.33 143.00,224.00 C143.93,226.67 147.33,241.73 148.00,244.00 C148.67,246.27 152.33,256.67 153.00,258.00 C153.67,259.33 157.13,263.67 158.00,264.00 C158.87,264.33 164.00,262.33 166.00,263.00 C168.00,263.67 185.33,273.07 188.00,274.00 C190.67,274.93 203.53,276.40 206.00,277.00 C208.47,277.60 222.40,282.13 225.00,283.00 C227.60,283.87 242.33,289.13 245.00,290.00 C247.67,290.87 262.33,295.27 265.00,296.00 C267.67,296.73 282.33,300.33 285.00,301.00 C287.67,301.67 302.33,305.40 305.00,306.00 C307.67,306.60 322.73,309.60 325.00,310.00 C327.27,310.40 338.07,311.87 339.00,312.00" stroke="#0000ff" stroke-dasharray="5.5,4.5"/>
</g>
<text x="28.50" y="330.60" font-size="9.6" text-anchor="middle" textLength="4.38" lengthAdjust="spacingAndGlyphs" fill="#333">0</text>
<text x="89.18" y="330.60" font-size="9.6" text-anchor="middle" textLength="13.14" lengthAdjust="spacingAndGlyphs" fill="#333">200</text>
<text x="149.87" y="330.60" font-size="9.6" text-anchor="middle" textLength="13.14" lengthAdjust="spacingAndGlyphs" fill="#333">400</text>
<text x="210.55" y="330.60" font-size="9.6" text-anchor="middle" textLength="13.14" lengthAdjust="spacingAndGlyphs" fill="#333">600</text>
<text x="271.23" y="330.60" font-size="9.6" text-anchor="middle" textLength="13.14" lengthAdjust="spacingAndGlyphs" fill="#333">800</text>
<text x="331.91" y="330.60" font-size="9.6" text-anchor="middle" textLength="17.52" lengthAdjust="spacingAndGlyphs" fill="#333">1000</text>
<text x="25.00" y="322.20" font-size="9.6" text-anchor="end" textLength="4.38" lengthAdjust="spacingAndGlyphs" fill="#333">0</text>
<text x="25.00" y="298.22" font-size="9.6" text-anchor="end" textLength="8.76" lengthAdjust="spacingAndGlyphs" fill="#333">50</text>
<text x="25.00" y="274.23" font-size="9.6" text-anchor="end" textLength="13.14" lengthAdjust="spacingAndGlyphs" fill="#333">100</text>
<text x="25.00" y="250.25" font-size="9.6" text-anchor="end" textLength="13.14" lengthAdjust="spacingAndGlyphs" fill="#333">150</text>
<text x="25.00" y="226.27" font-size="9.6" text-anchor="end" textLength="13.14" lengthAdjust="spacingAndGlyphs" fill="#333">200</text>
<text x="25.00" y="202.28" font-size="9.6" text-anchor="end" textLength="13.14" lengthAdjust="spacingAndGlyphs" fill="#333">250</text>
<text x="25.00" y="178.30" font-size="9.6" text-anchor="end" textLength="13.14" lengthAdjust="spacingAndGlyphs" fill="#333">300</text>
<path d="M28.50,318.80V315.60M28.50,174.90V178.10M89.18,318.80V315.60M89.18,174.90V178.10M149.87,318.80V315.60M149.87,174.90V178.10M210.55,318.80V315.60M210.55,174.90V178.10M271.23,318.80V315.60M271.23,174.90V178.10M331.91,318.80V315.60M331.91,174.90V178.10M28.50,318.80H31.70M339.50,318.80H336.30M28.50,294.82H31.70M339.50,294.82H336.30M28.50,270.83H31.70M339.50,270.83H336.30M28.50,246.85H31.70M339.50,246.85H336.30M28.50,222.87H31.70M339.50,222.87H336.30M28.50,198.88H31.70M339.50,198.88H336.30M28.50,174.90H31.70M339.50,174.90H336.30" stroke="#262626" stroke-width="1" fill="none"/>
<rect x="28.5" y="174.9" width="311.00" height="143.90" fill="none" stroke="#262626" stroke-width="1.3"/>
<text x="184.00" y="341.40" font-size="9.2" text-anchor="middle" fill="#333">Distance (km)</text>
<text transform="translate(6.70,246.85) rotate(-90)" font-size="9" text-anchor="middle" fill="#333">Turbulent Heat Flux (Wm-2)</text>
<rect x="267.5" y="207.5" width="66.20" height="77.70" fill="#fff" stroke="#262626" stroke-width="1.1"/>
<path d="M270.30,214.50H289.30" stroke="#000" stroke-width="1.5"/>
<text x="291.70" y="218.00" font-size="10.2" textLength="39.2" lengthAdjust="spacingAndGlyphs" fill="#2a2a2a">1950-1959</text>
<path d="M270.30,225.18H289.30" stroke="#000" stroke-width="1.5" stroke-dasharray="5.5,4.5"/>
<text x="291.70" y="228.68" font-size="10.2" textLength="39.2" lengthAdjust="spacingAndGlyphs" fill="#2a2a2a">1960-1969</text>
<path d="M270.30,235.87H289.30" stroke="#000" stroke-width="1.5" stroke-dasharray="1.2,1.3"/>
<text x="291.70" y="239.37" font-size="10.2" textLength="39.2" lengthAdjust="spacingAndGlyphs" fill="#2a2a2a">1970-1979</text>
<path d="M270.30,246.55H289.30" stroke="#ff0000" stroke-width="1.5"/>
<text x="291.70" y="250.05" font-size="10.2" textLength="39.2" lengthAdjust="spacingAndGlyphs" fill="#2a2a2a">1980-1989</text>
<path d="M270.30,257.23H289.30" stroke="#ff0000" stroke-width="1.5" stroke-dasharray="5.5,4.5"/>
<text x="291.70" y="260.73" font-size="10.2" textLength="39.2" lengthAdjust="spacingAndGlyphs" fill="#2a2a2a">1990-1999</text>
<path d="M270.30,267.92H289.30" stroke="#0000ff" stroke-width="1.5"/>
<text x="291.70" y="271.42" font-size="10.2" textLength="39.2" lengthAdjust="spacingAndGlyphs" fill="#2a2a2a">2000-2009</text>
<path d="M270.30,278.60H289.30" stroke="#0000ff" stroke-width="1.5" stroke-dasharray="5.5,4.5"/>
<text x="291.70" y="282.10" font-size="10.2" textLength="39.2" lengthAdjust="spacingAndGlyphs" fill="#2a2a2a">2010-2019</text>
<clipPath id="clipd"><rect x="372.5" y="174.5" width="311.00" height="144.00"/></clipPath>
<g clip-path="url(#clipd)" fill="none" stroke-width="1.6" stroke-linejoin="round">
<path d="M372.40,304.00 C373.04,304.20 380.56,306.67 382.00,307.00 C383.44,307.33 392.53,308.71 394.00,309.00 C395.47,309.29 402.80,311.24 404.00,311.40 C405.20,311.56 410.93,311.63 412.00,311.40 C413.07,311.17 418.93,308.63 420.00,308.00 C421.07,307.37 427.07,302.67 428.00,302.00 C428.93,301.33 433.13,298.31 434.00,298.00 C434.87,297.69 440.00,298.07 441.00,297.40 C442.00,296.73 448.27,289.76 449.00,288.00 C449.73,286.24 451.53,274.00 452.00,271.00 C452.47,268.00 455.20,245.96 456.00,243.00 C456.80,240.04 463.07,227.83 464.00,226.60 C464.93,225.37 469.00,225.31 470.00,224.60 C471.00,223.89 477.93,217.97 479.00,216.00 C480.07,214.03 485.07,196.60 486.00,195.00 C486.93,193.40 492.07,192.47 493.00,192.00 C493.93,191.53 499.00,188.60 500.00,188.00 C501.00,187.40 506.93,183.63 508.00,183.00 C509.07,182.37 514.93,178.97 516.00,178.60 C517.07,178.23 522.67,177.40 524.00,177.40 C525.33,177.40 534.27,178.49 536.00,178.60 C537.73,178.71 547.73,178.97 550.00,179.00 C552.27,179.03 567.33,178.97 570.00,179.00 C572.67,179.03 587.73,179.33 590.00,179.40 C592.27,179.47 602.00,180.00 604.00,180.00 C606.00,180.00 617.80,179.49 620.00,179.40 C622.20,179.31 632.73,178.67 637.00,178.60 C641.27,178.53 680.87,178.41 684.00,178.40" stroke="#000"/>
<path d="M372.40,300.00 C373.04,300.09 380.56,301.40 382.00,301.40 C383.44,301.40 392.40,300.27 394.00,300.00 C395.60,299.73 404.53,297.87 406.00,297.40 C407.47,296.93 414.80,293.96 416.00,293.00 C417.20,292.04 422.93,284.60 424.00,283.00 C425.07,281.40 431.07,270.13 432.00,269.00 C432.93,267.87 437.07,266.53 438.00,266.00 C438.93,265.47 445.20,261.93 446.00,261.00 C446.80,260.07 449.47,253.73 450.00,252.00 C450.53,250.27 453.47,236.80 454.00,235.00 C454.53,233.20 457.33,226.20 458.00,225.00 C458.67,223.80 463.07,217.87 464.00,217.00 C464.93,216.13 471.00,212.67 472.00,212.00 C473.00,211.33 478.07,208.27 479.00,207.00 C479.93,205.73 485.00,194.20 486.00,193.00 C487.00,191.80 493.07,189.60 494.00,189.00 C494.93,188.40 499.07,184.60 500.00,184.00 C500.93,183.40 506.80,180.47 508.00,180.00 C509.20,179.53 516.53,177.23 518.00,177.00 C519.47,176.77 528.40,176.49 530.00,176.60 C531.60,176.71 540.00,178.41 542.00,178.60 C544.00,178.79 556.80,179.31 560.00,179.40 C563.20,179.49 586.00,179.96 590.00,180.00 C594.00,180.04 616.87,180.04 620.00,180.00 C623.13,179.96 632.73,179.47 637.00,179.40 C641.27,179.33 680.87,179.03 684.00,179.00" stroke="#000" stroke-dasharray="5.5,4.5"/>
<path d="M372.40,301.00 C373.04,301.20 380.56,303.63 382.00,304.00 C383.44,304.37 392.40,306.37 394.00,306.60 C395.60,306.83 404.40,307.44 406.00,307.40 C407.60,307.36 416.53,306.36 418.00,306.00 C419.47,305.64 426.93,302.40 428.00,302.00 C429.07,301.60 433.07,300.13 434.00,300.00 C434.93,299.87 440.93,301.07 442.00,300.00 C443.07,298.93 449.07,286.73 450.00,284.00 C450.93,281.27 455.07,261.40 456.00,259.00 C456.93,256.60 463.00,248.87 464.00,248.00 C465.00,247.13 470.07,247.00 471.00,246.00 C471.93,245.00 477.00,235.33 478.00,233.00 C479.00,230.67 485.00,212.67 486.00,211.00 C487.00,209.33 492.07,208.67 493.00,208.00 C493.93,207.33 499.00,202.20 500.00,201.00 C501.00,199.80 506.93,191.20 508.00,190.00 C509.07,188.80 514.67,183.60 516.00,183.00 C517.33,182.40 526.40,181.20 528.00,181.00 C529.60,180.80 535.87,180.07 540.00,180.00 C544.13,179.93 583.53,180.04 590.00,180.00 C596.47,179.96 630.73,179.44 637.00,179.40 C643.27,179.36 680.87,179.40 684.00,179.40" stroke="#000" stroke-dasharray="1.2,1.3"/>
<path d="M372.40,312.40 C374.45,312.47 386.08,312.93 390.00,313.00 C393.92,313.07 402.50,312.77 406.00,313.00 C409.50,313.23 416.73,314.70 420.00,315.00 C423.27,315.30 431.43,315.72 434.00,315.60 C436.57,315.48 439.67,314.77 442.00,314.00 C444.33,313.23 451.43,310.17 454.00,309.00 C456.57,307.83 461.90,305.63 464.00,304.00 C466.10,302.37 470.13,297.92 472.00,295.00 C473.87,292.08 478.13,283.90 480.00,279.00 C481.87,274.10 486.37,258.60 488.00,253.00 C489.63,247.40 492.60,234.73 494.00,231.00 C495.40,227.27 498.37,223.10 500.00,221.00 C501.63,218.90 505.90,214.98 508.00,213.00 C510.10,211.02 515.43,205.98 518.00,204.00 C520.57,202.02 527.43,197.40 530.00,196.00 C532.57,194.60 537.43,192.82 540.00,192.00 C542.57,191.18 548.50,189.58 552.00,189.00 C555.50,188.42 565.57,187.58 570.00,187.00 C574.43,186.42 585.33,184.58 590.00,184.00 C594.67,183.42 604.40,182.42 610.00,182.00 C615.60,181.58 629.37,180.68 638.00,180.40 C646.63,180.12 678.63,179.69 684.00,179.60" stroke="#ff0000"/>
<path d="M372.40,315.00 C376.32,315.12 398.35,315.81 406.00,316.00 C413.65,316.19 432.17,316.95 438.00,316.60 C443.83,316.25 452.27,314.59 456.00,313.00 C459.73,311.41 467.20,306.50 470.00,303.00 C472.80,299.50 477.90,288.37 480.00,283.00 C482.10,277.63 486.37,262.83 488.00,257.00 C489.63,251.17 492.60,237.32 494.00,233.00 C495.40,228.68 496.97,223.62 500.00,220.00 C503.03,216.38 516.27,205.03 520.00,202.00 C523.73,198.97 528.50,195.63 532.00,194.00 C535.50,192.37 545.80,189.28 550.00,188.00 C554.20,186.72 563.57,183.75 568.00,183.00 C572.43,182.25 583.33,181.83 588.00,181.60 C592.67,181.37 596.80,181.30 608.00,181.00 C619.20,180.70 675.13,179.23 684.00,179.00" stroke="#ff0000" stroke-dasharray="5.5,4.5"/>
<path d="M372.40,316.60 C376.16,316.64 402.64,316.92 410.00,317.00 C417.36,317.08 441.20,317.80 446.00,317.40 C450.80,317.00 455.60,314.14 458.00,313.00 C460.40,311.86 467.80,308.00 470.00,306.00 C472.20,304.00 478.20,297.10 480.00,293.00 C481.80,288.90 486.60,270.30 488.00,265.00 C489.40,259.70 492.70,243.80 494.00,240.00 C495.30,236.20 499.60,228.40 501.00,227.00 C502.40,225.60 506.50,226.50 508.00,226.00 C509.50,225.50 513.60,223.70 516.00,222.00 C518.40,220.30 528.80,211.20 532.00,209.00 C535.20,206.80 544.40,201.70 548.00,200.00 C551.60,198.30 564.00,193.40 568.00,192.00 C572.00,190.60 584.00,186.90 588.00,186.00 C592.00,185.10 603.60,183.36 608.00,183.00 C612.40,182.64 627.00,182.60 632.00,182.40 C637.00,182.20 652.80,181.20 658.00,181.00 C663.20,180.80 681.40,180.46 684.00,180.40" stroke="#0000ff"/>
<path d="M372.40,317.40 C382.39,317.40 446.61,317.91 458.00,317.40 C469.39,316.89 467.55,314.33 470.00,313.00 C472.45,311.67 477.13,309.15 479.00,306.00 C480.87,302.85 484.48,290.78 486.00,286.00 C487.52,281.22 490.72,268.50 492.00,265.00 C493.28,261.50 495.83,257.63 497.00,256.00 C498.17,254.37 500.72,251.70 502.00,251.00 C503.28,250.30 505.90,250.82 508.00,250.00 C510.10,249.18 516.73,245.52 520.00,244.00 C523.27,242.48 532.73,237.93 536.00,237.00 C539.27,236.07 545.67,236.23 548.00,236.00 C550.33,235.77 553.20,235.93 556.00,235.00 C558.80,234.07 568.27,229.75 572.00,228.00 C575.73,226.25 583.80,222.10 588.00,220.00 C592.20,217.90 603.33,212.10 608.00,210.00 C612.67,207.90 623.33,203.87 628.00,202.00 C632.67,200.13 643.33,195.63 648.00,194.00 C652.67,192.37 663.80,189.05 668.00,188.00 C672.20,186.95 682.13,185.35 684.00,185.00" stroke="#0000ff" stroke-dasharray="5.5,4.5"/>
</g>
<text x="372.50" y="330.30" font-size="9.6" text-anchor="middle" textLength="4.38" lengthAdjust="spacingAndGlyphs" fill="#333">0</text>
<text x="433.18" y="330.30" font-size="9.6" text-anchor="middle" textLength="13.14" lengthAdjust="spacingAndGlyphs" fill="#333">200</text>
<text x="493.87" y="330.30" font-size="9.6" text-anchor="middle" textLength="13.14" lengthAdjust="spacingAndGlyphs" fill="#333">400</text>
<text x="554.55" y="330.30" font-size="9.6" text-anchor="middle" textLength="13.14" lengthAdjust="spacingAndGlyphs" fill="#333">600</text>
<text x="615.23" y="330.30" font-size="9.6" text-anchor="middle" textLength="13.14" lengthAdjust="spacingAndGlyphs" fill="#333">800</text>
<text x="675.91" y="330.30" font-size="9.6" text-anchor="middle" textLength="17.52" lengthAdjust="spacingAndGlyphs" fill="#333">1000</text>
<text x="369.00" y="321.90" font-size="9.6" text-anchor="end" textLength="4.38" lengthAdjust="spacingAndGlyphs" fill="#333">0</text>
<text x="369.00" y="293.10" font-size="9.6" text-anchor="end" textLength="8.76" lengthAdjust="spacingAndGlyphs" fill="#333">20</text>
<text x="369.00" y="264.30" font-size="9.6" text-anchor="end" textLength="8.76" lengthAdjust="spacingAndGlyphs" fill="#333">40</text>
<text x="369.00" y="235.50" font-size="9.6" text-anchor="end" textLength="8.76" lengthAdjust="spacingAndGlyphs" fill="#333">60</text>
<text x="369.00" y="206.70" font-size="9.6" text-anchor="end" textLength="8.76" lengthAdjust="spacingAndGlyphs" fill="#333">80</text>
<text x="369.00" y="177.90" font-size="9.6" text-anchor="end" textLength="13.14" lengthAdjust="spacingAndGlyphs" fill="#333">100</text>
<path d="M372.50,318.50V315.30M372.50,174.50V177.70M433.18,318.50V315.30M433.18,174.50V177.70M493.87,318.50V315.30M493.87,174.50V177.70M554.55,318.50V315.30M554.55,174.50V177.70M615.23,318.50V315.30M615.23,174.50V177.70M675.91,318.50V315.30M675.91,174.50V177.70M372.50,318.50H375.70M683.50,318.50H680.30M372.50,289.70H375.70M683.50,289.70H680.30M372.50,260.90H375.70M683.50,260.90H680.30M372.50,232.10H375.70M683.50,232.10H680.30M372.50,203.30H375.70M683.50,203.30H680.30M372.50,174.50H375.70M683.50,174.50H680.30" stroke="#262626" stroke-width="1" fill="none"/>
<rect x="372.5" y="174.5" width="311.00" height="144.00" fill="none" stroke="#262626" stroke-width="1.3"/>
<text x="528.00" y="341.10" font-size="9.2" text-anchor="middle" fill="#333">Distance (km)</text>
<text transform="translate(351.50,246.50) rotate(-90)" font-size="9" text-anchor="middle" fill="#333">Ice Concentration (%)</text>
<rect x="611.5" y="238.5" width="66.40" height="77.70" fill="#fff" stroke="#262626" stroke-width="1.1"/>
<path d="M614.30,245.50H633.30" stroke="#000" stroke-width="1.5"/>
<text x="635.70" y="249.00" font-size="10.2" textLength="39.2" lengthAdjust="spacingAndGlyphs" fill="#2a2a2a">1950-1959</text>
<path d="M614.30,256.18H633.30" stroke="#000" stroke-width="1.5" stroke-dasharray="5.5,4.5"/>
<text x="635.70" y="259.68" font-size="10.2" textLength="39.2" lengthAdjust="spacingAndGlyphs" fill="#2a2a2a">1960-1969</text>
<path d="M614.30,266.87H633.30" stroke="#000" stroke-width="1.5" stroke-dasharray="1.2,1.3"/>
<text x="635.70" y="270.37" font-size="10.2" textLength="39.2" lengthAdjust="spacingAndGlyphs" fill="#2a2a2a">1970-1979</text>
<path d="M614.30,277.55H633.30" stroke="#ff0000" stroke-width="1.5"/>
<text x="635.70" y="281.05" font-size="10.2" textLength="39.2" lengthAdjust="spacingAndGlyphs" fill="#2a2a2a">1980-1989</text>
<path d="M614.30,288.23H633.30" stroke="#ff0000" stroke-width="1.5" stroke-dasharray="5.5,4.5"/>
<text x="635.70" y="291.73" font-size="10.2" textLength="39.2" lengthAdjust="spacingAndGlyphs" fill="#2a2a2a">1990-1999</text>
<path d="M614.30,298.92H633.30" stroke="#0000ff" stroke-width="1.5"/>
<text x="635.70" y="302.42" font-size="10.2" textLength="39.2" lengthAdjust="spacingAndGlyphs" fill="#2a2a2a">2000-2009</text>
<path d="M614.30,309.60H633.30" stroke="#0000ff" stroke-width="1.5" stroke-dasharray="5.5,4.5"/>
<text x="635.70" y="313.10" font-size="10.2" textLength="39.2" lengthAdjust="spacingAndGlyphs" fill="#2a2a2a">2010-2019</text>
<clipPath id="clipe"><rect x="28.5" y="345.8" width="312.00" height="144.30"/></clipPath>
<g clip-path="url(#clipe)" fill="none" stroke-width="1.6" stroke-linejoin="round">
<path d="M28.40,402.60 C30.00,402.83 34.40,403.70 38.00,404.00 C41.60,404.30 46.00,404.13 50.00,404.40 C54.00,404.67 58.00,404.93 62.00,405.60 C66.00,406.27 70.00,407.17 74.00,408.40 C78.00,409.63 82.00,411.80 86.00,413.00 C90.00,414.20 94.00,414.93 98.00,415.60 C102.00,416.27 106.33,416.43 110.00,417.00 C113.67,417.57 117.33,418.67 120.00,419.00 C122.67,419.33 123.67,419.67 126.00,419.00 C128.33,418.33 131.00,416.33 134.00,415.00 C137.00,413.67 140.67,411.43 144.00,411.00 C147.33,410.57 150.83,412.15 154.00,412.40 C157.17,412.65 160.33,412.65 163.00,412.50 C165.67,412.35 167.17,411.08 170.00,411.50 C172.83,411.92 176.67,413.58 180.00,415.00 C183.33,416.42 187.00,418.17 190.00,420.00 C193.00,421.83 195.00,423.50 198.00,426.00 C201.00,428.50 204.67,432.33 208.00,435.00 C211.33,437.67 214.67,439.83 218.00,442.00 C221.33,444.17 225.00,445.67 228.00,448.00 C231.00,450.33 232.57,452.98 236.00,456.00 C239.43,459.02 244.12,462.93 248.60,466.10 C253.08,469.27 257.55,472.62 262.90,475.00 C268.25,477.38 274.75,478.47 280.70,480.40 C286.65,482.33 293.23,485.72 298.60,486.60 C303.97,487.48 308.15,486.00 312.90,485.70 C317.65,485.40 322.58,484.65 327.10,484.80 C331.62,484.95 337.85,486.30 340.00,486.60" stroke="#000"/>
<path d="M28.40,398.60 C30.00,398.83 34.40,399.70 38.00,400.00 C41.60,400.30 46.00,399.90 50.00,400.40 C54.00,400.90 58.00,401.90 62.00,403.00 C66.00,404.10 70.00,405.50 74.00,407.00 C78.00,408.50 82.00,410.67 86.00,412.00 C90.00,413.33 94.00,414.33 98.00,415.00 C102.00,415.67 106.00,415.23 110.00,416.00 C114.00,416.77 118.33,419.77 122.00,419.60 C125.67,419.43 128.67,416.43 132.00,415.00 C135.33,413.57 138.67,411.50 142.00,411.00 C145.33,410.50 148.67,411.77 152.00,412.00 C155.33,412.23 158.33,411.90 162.00,412.40 C165.67,412.90 170.00,413.57 174.00,415.00 C178.00,416.43 182.33,418.67 186.00,421.00 C189.67,423.33 192.67,425.83 196.00,429.00 C199.33,432.17 202.33,436.83 206.00,440.00 C209.67,443.17 214.00,445.50 218.00,448.00 C222.00,450.50 226.00,452.50 230.00,455.00 C234.00,457.50 238.00,460.83 242.00,463.00 C246.00,465.17 249.33,466.50 254.00,468.00 C258.67,469.50 265.55,470.68 270.00,472.00 C274.45,473.32 275.93,474.22 280.70,475.90 C285.47,477.58 293.23,481.00 298.60,482.10 C303.97,483.20 308.15,482.20 312.90,482.50 C317.65,482.80 322.58,483.42 327.10,483.90 C331.62,484.38 337.85,485.15 340.00,485.40" stroke="#000" stroke-dasharray="5.5,4.5"/>
<path d="M28.40,401.00 C29.36,401.20 35.24,402.80 38.00,403.00 C40.76,403.20 52.40,402.60 56.00,403.00 C59.60,403.40 71.00,406.06 74.00,407.00 C77.00,407.94 83.60,411.66 86.00,412.40 C88.40,413.14 95.60,414.04 98.00,414.40 C100.40,414.76 107.80,415.44 110.00,416.00 C112.20,416.56 118.40,419.64 120.00,420.00 C121.60,420.36 124.60,420.00 126.00,419.60 C127.40,419.20 132.20,416.76 134.00,416.00 C135.80,415.24 142.40,412.60 144.00,412.00 C145.60,411.40 148.40,410.40 150.00,410.00 C151.60,409.60 158.00,408.50 160.00,408.00 C162.00,407.50 167.80,405.10 170.00,405.00 C172.20,404.90 179.60,406.30 182.00,407.00 C184.40,407.70 191.60,410.90 194.00,412.00 C196.40,413.10 203.80,417.00 206.00,418.00 C208.20,419.00 214.00,421.30 216.00,422.00 C218.00,422.70 224.40,423.60 226.00,425.00 C227.60,426.40 230.60,433.60 232.00,436.00 C233.40,438.40 237.99,446.62 240.00,449.00 C242.01,451.38 249.46,458.54 252.10,459.80 C254.74,461.06 263.54,461.15 266.40,461.60 C269.26,462.05 277.84,462.96 280.70,464.30 C283.56,465.64 292.14,473.66 295.00,475.00 C297.86,476.34 306.44,477.34 309.30,477.70 C312.16,478.06 320.53,478.07 323.60,478.60 C326.67,479.13 338.36,482.56 340.00,483.00" stroke="#000" stroke-dasharray="1.2,1.3"/>
<path d="M28.40,409.00 C30.00,409.33 34.40,410.67 38.00,411.00 C41.60,411.33 46.00,410.67 50.00,411.00 C54.00,411.33 58.00,412.10 62.00,413.00 C66.00,413.90 70.00,415.23 74.00,416.40 C78.00,417.57 82.00,419.13 86.00,420.00 C90.00,420.87 94.00,421.10 98.00,421.60 C102.00,422.10 106.00,422.33 110.00,423.00 C114.00,423.67 118.67,425.43 122.00,425.60 C125.33,425.77 126.67,425.27 130.00,424.00 C133.33,422.73 138.00,419.40 142.00,418.00 C146.00,416.60 149.33,416.10 154.00,415.60 C158.67,415.10 164.00,414.60 170.00,415.00 C176.00,415.40 184.67,415.83 190.00,418.00 C195.33,420.17 197.33,424.83 202.00,428.00 C206.67,431.17 212.33,433.67 218.00,437.00 C223.67,440.33 230.67,444.50 236.00,448.00 C241.33,451.50 245.52,455.28 250.00,458.00 C254.48,460.72 258.38,462.65 262.90,464.30 C267.42,465.95 272.35,467.15 277.10,467.90 C281.85,468.65 286.63,468.07 291.40,468.80 C296.17,469.53 300.93,470.82 305.70,472.30 C310.47,473.78 314.28,475.62 320.00,477.70 C325.72,479.78 336.67,483.62 340.00,484.80" stroke="#ff0000"/>
<path d="M28.40,409.50 C30.00,409.83 34.40,411.17 38.00,411.50 C41.60,411.83 46.00,411.17 50.00,411.50 C54.00,411.83 58.00,412.58 62.00,413.50 C66.00,414.42 70.00,415.83 74.00,417.00 C78.00,418.17 82.00,419.67 86.00,420.50 C90.00,421.33 94.00,421.50 98.00,422.00 C102.00,422.50 106.00,422.83 110.00,423.50 C114.00,424.17 118.67,425.83 122.00,426.00 C125.33,426.17 126.00,426.00 130.00,424.50 C134.00,423.00 140.50,418.08 146.00,417.00 C151.50,415.92 159.00,418.10 163.00,418.00 C167.00,417.90 165.50,416.23 170.00,416.40 C174.50,416.57 183.33,417.40 190.00,419.00 C196.67,420.60 205.00,424.40 210.00,426.00 C215.00,427.60 215.95,427.58 220.00,428.60 C224.05,429.62 229.53,429.43 234.30,432.10 C239.07,434.77 243.83,440.72 248.60,444.60 C253.37,448.48 258.15,453.17 262.90,455.40 C267.65,457.63 272.35,457.57 277.10,458.00 C281.85,458.43 286.93,457.25 291.40,458.00 C295.87,458.75 299.73,460.27 303.90,462.50 C308.07,464.73 312.53,468.72 316.40,471.40 C320.27,474.08 323.17,476.52 327.10,478.60 C331.03,480.68 337.85,483.02 340.00,483.90" stroke="#ff0000" stroke-dasharray="5.5,4.5"/>
<path d="M28.40,411.00 C30.00,411.17 34.40,411.83 38.00,412.00 C41.60,412.17 46.00,411.67 50.00,412.00 C54.00,412.33 58.00,413.07 62.00,414.00 C66.00,414.93 70.00,416.43 74.00,417.60 C78.00,418.77 82.00,420.20 86.00,421.00 C90.00,421.80 94.00,421.90 98.00,422.40 C102.00,422.90 106.00,423.40 110.00,424.00 C114.00,424.60 118.67,426.07 122.00,426.00 C125.33,425.93 126.67,425.10 130.00,423.60 C133.33,422.10 138.00,418.60 142.00,417.00 C146.00,415.40 150.00,414.67 154.00,414.00 C158.00,413.33 160.67,413.40 166.00,413.00 C171.33,412.60 180.67,411.43 186.00,411.60 C191.33,411.77 194.00,412.77 198.00,414.00 C202.00,415.23 206.33,417.62 210.00,419.00 C213.67,420.38 215.95,421.00 220.00,422.30 C224.05,423.60 229.53,424.27 234.30,426.80 C239.07,429.33 243.83,434.77 248.60,437.50 C253.37,440.23 258.15,443.05 262.90,443.20 C267.65,443.35 271.75,439.95 277.10,438.40 C282.45,436.85 290.23,434.20 295.00,433.90 C299.77,433.60 301.53,434.52 305.70,436.60 C309.87,438.68 315.83,443.27 320.00,446.40 C324.17,449.53 327.37,452.42 330.70,455.40 C334.03,458.38 338.45,462.82 340.00,464.30" stroke="#0000ff"/>
<path d="M28.40,415.60 C31.33,415.60 40.40,415.37 46.00,415.60 C51.60,415.83 56.67,416.27 62.00,417.00 C67.33,417.73 72.67,419.10 78.00,420.00 C83.33,420.90 88.67,421.57 94.00,422.40 C99.33,423.23 105.33,424.07 110.00,425.00 C114.67,425.93 118.00,427.83 122.00,428.00 C126.00,428.17 130.00,426.83 134.00,426.00 C138.00,425.17 141.17,423.83 146.00,423.00 C150.83,422.17 159.00,421.43 163.00,421.00 C167.00,420.57 165.50,420.63 170.00,420.40 C174.50,420.17 183.33,419.33 190.00,419.60 C196.67,419.87 205.00,421.55 210.00,422.00 C215.00,422.45 215.95,421.65 220.00,422.30 C224.05,422.95 229.53,423.97 234.30,425.90 C239.07,427.83 243.83,431.97 248.60,433.90 C253.37,435.83 258.15,437.80 262.90,437.50 C267.65,437.20 272.35,434.03 277.10,432.10 C281.85,430.17 287.23,426.78 291.40,425.90 C295.57,425.02 298.52,425.17 302.10,426.80 C305.68,428.43 309.32,432.43 312.90,435.70 C316.48,438.97 319.08,442.97 323.60,446.40 C328.12,449.83 337.27,454.65 340.00,456.30" stroke="#0000ff" stroke-dasharray="5.5,4.5"/>
</g>
<text x="28.50" y="501.90" font-size="9.6" text-anchor="middle" textLength="4.38" lengthAdjust="spacingAndGlyphs" fill="#333">0</text>
<text x="85.23" y="501.90" font-size="9.6" text-anchor="middle" textLength="13.14" lengthAdjust="spacingAndGlyphs" fill="#333">200</text>
<text x="141.95" y="501.90" font-size="9.6" text-anchor="middle" textLength="13.14" lengthAdjust="spacingAndGlyphs" fill="#333">400</text>
<text x="198.68" y="501.90" font-size="9.6" text-anchor="middle" textLength="13.14" lengthAdjust="spacingAndGlyphs" fill="#333">600</text>
<text x="255.41" y="501.90" font-size="9.6" text-anchor="middle" textLength="13.14" lengthAdjust="spacingAndGlyphs" fill="#333">800</text>
<text x="312.14" y="501.90" font-size="9.6" text-anchor="middle" textLength="17.52" lengthAdjust="spacingAndGlyphs" fill="#333">1000</text>
<text x="25.00" y="493.50" font-size="9.6" text-anchor="end" textLength="4.38" lengthAdjust="spacingAndGlyphs" fill="#333">0</text>
<text x="25.00" y="469.45" font-size="9.6" text-anchor="end" textLength="8.76" lengthAdjust="spacingAndGlyphs" fill="#333">50</text>
<text x="25.00" y="445.40" font-size="9.6" text-anchor="end" textLength="13.14" lengthAdjust="spacingAndGlyphs" fill="#333">100</text>
<text x="25.00" y="421.35" font-size="9.6" text-anchor="end" textLength="13.14" lengthAdjust="spacingAndGlyphs" fill="#333">150</text>
<text x="25.00" y="397.30" font-size="9.6" text-anchor="end" textLength="13.14" lengthAdjust="spacingAndGlyphs" fill="#333">200</text>
<text x="25.00" y="373.25" font-size="9.6" text-anchor="end" textLength="13.14" lengthAdjust="spacingAndGlyphs" fill="#333">250</text>
<text x="25.00" y="349.20" font-size="9.6" text-anchor="end" textLength="13.14" lengthAdjust="spacingAndGlyphs" fill="#333">300</text>
<path d="M28.50,490.10V486.90M28.50,345.80V349.00M85.23,490.10V486.90M85.23,345.80V349.00M141.95,490.10V486.90M141.95,345.80V349.00M198.68,490.10V486.90M198.68,345.80V349.00M255.41,490.10V486.90M255.41,345.80V349.00M312.14,490.10V486.90M312.14,345.80V349.00M28.50,490.10H31.70M340.50,490.10H337.30M28.50,466.05H31.70M340.50,466.05H337.30M28.50,442.00H31.70M340.50,442.00H337.30M28.50,417.95H31.70M340.50,417.95H337.30M28.50,393.90H31.70M340.50,393.90H337.30M28.50,369.85H31.70M340.50,369.85H337.30M28.50,345.80H31.70M340.50,345.80H337.30" stroke="#262626" stroke-width="1" fill="none"/>
<rect x="28.5" y="345.8" width="312.00" height="144.30" fill="none" stroke="#262626" stroke-width="1.3"/>
<text x="184.50" y="512.70" font-size="9.2" text-anchor="middle" fill="#333">Distance (km)</text>
<text transform="translate(6.70,417.95) rotate(-90)" font-size="9" text-anchor="middle" fill="#333">Turbulent Heat Flux (Wm-2)</text>
<rect x="267.8" y="348.0" width="66.70" height="77.40" fill="#fff" stroke="#262626" stroke-width="1.1"/>
<path d="M270.60,355.00H289.60" stroke="#000" stroke-width="1.5"/>
<text x="292.00" y="358.50" font-size="10.2" textLength="39.2" lengthAdjust="spacingAndGlyphs" fill="#2a2a2a">1950-1959</text>
<path d="M270.60,365.63H289.60" stroke="#000" stroke-width="1.5" stroke-dasharray="5.5,4.5"/>
<text x="292.00" y="369.13" font-size="10.2" textLength="39.2" lengthAdjust="spacingAndGlyphs" fill="#2a2a2a">1960-1969</text>
<path d="M270.60,376.27H289.60" stroke="#000" stroke-width="1.5" stroke-dasharray="1.2,1.3"/>
<text x="292.00" y="379.77" font-size="10.2" textLength="39.2" lengthAdjust="spacingAndGlyphs" fill="#2a2a2a">1970-1979</text>
<path d="M270.60,386.90H289.60" stroke="#ff0000" stroke-width="1.5"/>
<text x="292.00" y="390.40" font-size="10.2" textLength="39.2" lengthAdjust="spacingAndGlyphs" fill="#2a2a2a">1980-1989</text>
<path d="M270.60,397.53H289.60" stroke="#ff0000" stroke-width="1.5" stroke-dasharray="5.5,4.5"/>
<text x="292.00" y="401.03" font-size="10.2" textLength="39.2" lengthAdjust="spacingAndGlyphs" fill="#2a2a2a">1990-1999</text>
<path d="M270.60,408.17H289.60" stroke="#0000ff" stroke-width="1.5"/>
<text x="292.00" y="411.67" font-size="10.2" textLength="39.2" lengthAdjust="spacingAndGlyphs" fill="#2a2a2a">2000-2009</text>
<path d="M270.60,418.80H289.60" stroke="#0000ff" stroke-width="1.5" stroke-dasharray="5.5,4.5"/>
<text x="292.00" y="422.30" font-size="10.2" textLength="39.2" lengthAdjust="spacingAndGlyphs" fill="#2a2a2a">2010-2019</text>
<clipPath id="clipf"><rect x="373.0" y="345.5" width="311.60" height="144.40"/></clipPath>
<g clip-path="url(#clipf)" fill="none" stroke-width="1.6" stroke-linejoin="round">
<path d="M373.00,489.40 C384.17,489.37 423.83,489.43 440.00,489.20 C456.17,488.97 462.33,488.43 470.00,488.00 C477.67,487.57 481.33,487.60 486.00,486.60 C490.67,485.60 494.00,484.10 498.00,482.00 C502.00,479.90 506.67,476.17 510.00,474.00 C513.33,471.83 514.67,472.00 518.00,469.00 C521.33,466.00 526.00,460.50 530.00,456.00 C534.00,451.50 538.67,446.17 542.00,442.00 C545.33,437.83 547.00,434.33 550.00,431.00 C553.00,427.67 556.33,425.67 560.00,422.00 C563.67,418.33 568.67,413.17 572.00,409.00 C575.33,404.83 577.50,400.17 580.00,397.00 C582.50,393.83 584.67,392.17 587.00,390.00 C589.33,387.83 590.50,386.50 594.00,384.00 C597.50,381.50 603.00,377.83 608.00,375.00 C613.00,372.17 618.33,369.67 624.00,367.00 C629.67,364.33 637.33,360.60 642.00,359.00 C646.67,357.40 647.67,357.67 652.00,357.40 C656.33,357.13 662.50,357.87 668.00,357.40 C673.50,356.93 682.17,355.07 685.00,354.60" stroke="#000"/>
<path d="M373.00,489.40 C380.83,489.40 409.50,489.60 420.00,489.40 C430.50,489.20 431.00,488.52 436.00,488.20 C441.00,487.88 444.33,488.03 450.00,487.50 C455.67,486.97 463.33,485.85 470.00,485.00 C476.67,484.15 484.67,483.57 490.00,482.40 C495.33,481.23 498.33,479.57 502.00,478.00 C505.67,476.43 508.67,475.33 512.00,473.00 C515.33,470.67 518.33,468.17 522.00,464.00 C525.67,459.83 530.33,453.33 534.00,448.00 C537.67,442.67 541.67,435.83 544.00,432.00 C546.33,428.17 546.00,427.67 548.00,425.00 C550.00,422.33 553.00,419.17 556.00,416.00 C559.00,412.83 562.67,409.00 566.00,406.00 C569.33,403.00 572.67,400.67 576.00,398.00 C579.33,395.33 582.67,392.17 586.00,390.00 C589.33,387.83 591.67,387.00 596.00,385.00 C600.33,383.00 606.67,380.50 612.00,378.00 C617.33,375.50 622.67,372.83 628.00,370.00 C633.33,367.17 638.67,363.00 644.00,361.00 C649.33,359.00 655.33,358.83 660.00,358.00 C664.67,357.17 667.83,356.67 672.00,356.00 C676.17,355.33 682.83,354.33 685.00,354.00" stroke="#000" stroke-dasharray="5.5,4.5"/>
<path d="M373.00,489.40 C380.83,489.40 409.50,489.60 420.00,489.40 C430.50,489.20 431.00,488.52 436.00,488.20 C441.00,487.88 444.33,488.03 450.00,487.50 C455.67,486.97 463.33,485.85 470.00,485.00 C476.67,484.15 484.67,482.97 490.00,482.40 C495.33,481.83 498.00,481.67 502.00,481.60 C506.00,481.53 510.00,482.93 514.00,482.00 C518.00,481.07 522.00,478.67 526.00,476.00 C530.00,473.33 534.00,469.50 538.00,466.00 C542.00,462.50 545.67,458.00 550.00,455.00 C554.33,452.00 560.33,451.17 564.00,448.00 C567.67,444.83 569.33,441.33 572.00,436.00 C574.67,430.67 577.33,421.67 580.00,416.00 C582.67,410.33 584.67,405.73 588.00,402.00 C591.33,398.27 595.33,395.43 600.00,393.60 C604.67,391.77 611.33,392.77 616.00,391.00 C620.67,389.23 624.33,386.33 628.00,383.00 C631.67,379.67 634.67,374.00 638.00,371.00 C641.33,368.00 644.33,366.33 648.00,365.00 C651.67,363.67 656.00,363.83 660.00,363.00 C664.00,362.17 667.83,361.33 672.00,360.00 C676.17,358.67 682.83,355.83 685.00,355.00" stroke="#000" stroke-dasharray="1.2,1.3"/>
<path d="M373.00,489.40 C385.83,489.33 433.83,489.17 450.00,489.00 C466.17,488.83 464.00,488.73 470.00,488.40 C476.00,488.07 481.33,488.07 486.00,487.00 C490.67,485.93 493.33,483.50 498.00,482.00 C502.67,480.50 508.67,479.67 514.00,478.00 C519.33,476.33 525.67,474.17 530.00,472.00 C534.33,469.83 536.67,468.33 540.00,465.00 C543.33,461.67 546.00,456.67 550.00,452.00 C554.00,447.33 559.67,441.67 564.00,437.00 C568.33,432.33 572.00,428.50 576.00,424.00 C580.00,419.50 583.33,415.00 588.00,410.00 C592.67,405.00 599.33,397.67 604.00,394.00 C608.67,390.33 611.33,389.83 616.00,388.00 C620.67,386.17 626.67,385.17 632.00,383.00 C637.33,380.83 643.33,377.67 648.00,375.00 C652.67,372.33 656.00,369.50 660.00,367.00 C664.00,364.50 667.83,361.83 672.00,360.00 C676.17,358.17 682.83,356.67 685.00,356.00" stroke="#ff0000"/>
<path d="M373.00,489.40 C385.83,489.33 431.17,489.33 450.00,489.00 C468.83,488.67 477.33,488.73 486.00,487.40 C494.67,486.07 496.67,482.90 502.00,481.00 C507.33,479.10 512.67,477.83 518.00,476.00 C523.33,474.17 529.33,472.17 534.00,470.00 C538.67,467.83 542.00,465.50 546.00,463.00 C550.00,460.50 554.00,457.83 558.00,455.00 C562.00,452.17 566.33,449.50 570.00,446.00 C573.67,442.50 576.33,438.83 580.00,434.00 C583.67,429.17 588.67,421.67 592.00,417.00 C595.33,412.33 597.00,408.83 600.00,406.00 C603.00,403.17 606.00,401.50 610.00,400.00 C614.00,398.50 619.50,398.33 624.00,397.00 C628.50,395.67 633.67,393.33 637.00,392.00 C640.33,390.67 640.83,391.33 644.00,389.00 C647.17,386.67 652.00,381.67 656.00,378.00 C660.00,374.33 663.17,370.50 668.00,367.00 C672.83,363.50 682.17,358.67 685.00,357.00" stroke="#ff0000" stroke-dasharray="5.5,4.5"/>
<path d="M373.00,489.40 C399.17,489.40 502.83,489.63 530.00,489.40 C557.17,489.17 533.67,488.90 536.00,488.00 C538.33,487.10 542.00,485.17 544.00,484.00 C546.00,482.83 545.33,482.83 548.00,481.00 C550.67,479.17 556.00,475.67 560.00,473.00 C564.00,470.33 568.00,467.83 572.00,465.00 C576.00,462.17 580.00,459.17 584.00,456.00 C588.00,452.83 592.00,448.57 596.00,446.00 C600.00,443.43 604.67,441.43 608.00,440.60 C611.33,439.77 612.67,440.43 616.00,441.00 C619.33,441.57 624.67,443.43 628.00,444.00 C631.33,444.57 633.00,445.40 636.00,444.40 C639.00,443.40 642.33,441.40 646.00,438.00 C649.67,434.60 654.00,429.33 658.00,424.00 C662.00,418.67 665.50,412.17 670.00,406.00 C674.50,399.83 682.50,390.17 685.00,387.00" stroke="#0000ff"/>
<path d="M373.00,489.40 C400.83,489.40 510.83,489.63 540.00,489.40 C569.17,489.17 544.00,488.40 548.00,488.00 C552.00,487.60 558.67,487.83 564.00,487.00 C569.33,486.17 574.67,485.00 580.00,483.00 C585.33,481.00 591.00,476.83 596.00,475.00 C601.00,473.17 606.00,472.23 610.00,472.00 C614.00,471.77 616.33,473.00 620.00,473.60 C623.67,474.20 628.00,476.37 632.00,475.60 C636.00,474.83 640.00,472.60 644.00,469.00 C648.00,465.40 652.00,459.50 656.00,454.00 C660.00,448.50 663.17,441.83 668.00,436.00 C672.83,430.17 682.17,421.83 685.00,419.00" stroke="#0000ff" stroke-dasharray="5.5,4.5"/>
</g>
<text x="373.00" y="501.70" font-size="9.6" text-anchor="middle" textLength="4.38" lengthAdjust="spacingAndGlyphs" fill="#333">0</text>
<text x="429.65" y="501.70" font-size="9.6" text-anchor="middle" textLength="13.14" lengthAdjust="spacingAndGlyphs" fill="#333">200</text>
<text x="486.31" y="501.70" font-size="9.6" text-anchor="middle" textLength="13.14" lengthAdjust="spacingAndGlyphs" fill="#333">400</text>
<text x="542.96" y="501.70" font-size="9.6" text-anchor="middle" textLength="13.14" lengthAdjust="spacingAndGlyphs" fill="#333">600</text>
<text x="599.62" y="501.70" font-size="9.6" text-anchor="middle" textLength="13.14" lengthAdjust="spacingAndGlyphs" fill="#333">800</text>
<text x="656.27" y="501.70" font-size="9.6" text-anchor="middle" textLength="17.52" lengthAdjust="spacingAndGlyphs" fill="#333">1000</text>
<text x="369.50" y="493.30" font-size="9.6" text-anchor="end" textLength="4.38" lengthAdjust="spacingAndGlyphs" fill="#333">0</text>
<text x="369.50" y="464.42" font-size="9.6" text-anchor="end" textLength="8.76" lengthAdjust="spacingAndGlyphs" fill="#333">20</text>
<text x="369.50" y="435.54" font-size="9.6" text-anchor="end" textLength="8.76" lengthAdjust="spacingAndGlyphs" fill="#333">40</text>
<text x="369.50" y="406.66" font-size="9.6" text-anchor="end" textLength="8.76" lengthAdjust="spacingAndGlyphs" fill="#333">60</text>
<text x="369.50" y="377.78" font-size="9.6" text-anchor="end" textLength="8.76" lengthAdjust="spacingAndGlyphs" fill="#333">80</text>
<text x="369.50" y="348.90" font-size="9.6" text-anchor="end" textLength="13.14" lengthAdjust="spacingAndGlyphs" fill="#333">100</text>
<path d="M373.00,489.90V486.70M373.00,345.50V348.70M429.65,489.90V486.70M429.65,345.50V348.70M486.31,489.90V486.70M486.31,345.50V348.70M542.96,489.90V486.70M542.96,345.50V348.70M599.62,489.90V486.70M599.62,345.50V348.70M656.27,489.90V486.70M656.27,345.50V348.70M373.00,489.90H376.20M684.60,489.90H681.40M373.00,461.02H376.20M684.60,461.02H681.40M373.00,432.14H376.20M684.60,432.14H681.40M373.00,403.26H376.20M684.60,403.26H681.40M373.00,374.38H376.20M684.60,374.38H681.40M373.00,345.50H376.20M684.60,345.50H681.40" stroke="#262626" stroke-width="1" fill="none"/>
<rect x="373.0" y="345.5" width="311.60" height="144.40" fill="none" stroke="#262626" stroke-width="1.3"/>
<text x="528.80" y="512.50" font-size="9.2" text-anchor="middle" fill="#333">Distance (km)</text>
<text transform="translate(352.00,417.70) rotate(-90)" font-size="9" text-anchor="middle" fill="#333">Ice Concentration (%)</text>
<rect x="378.4" y="407.3" width="66.20" height="77.50" fill="#fff" stroke="#262626" stroke-width="1.1"/>
<path d="M381.20,414.30H400.20" stroke="#000" stroke-width="1.5"/>
<text x="402.60" y="417.80" font-size="10.2" textLength="39.2" lengthAdjust="spacingAndGlyphs" fill="#2a2a2a">1950-1959</text>
<path d="M381.20,424.95H400.20" stroke="#000" stroke-width="1.5" stroke-dasharray="5.5,4.5"/>
<text x="402.60" y="428.45" font-size="10.2" textLength="39.2" lengthAdjust="spacingAndGlyphs" fill="#2a2a2a">1960-1969</text>
<path d="M381.20,435.60H400.20" stroke="#000" stroke-width="1.5" stroke-dasharray="1.2,1.3"/>
<text x="402.60" y="439.10" font-size="10.2" textLength="39.2" lengthAdjust="spacingAndGlyphs" fill="#2a2a2a">1970-1979</text>
<path d="M381.20,446.25H400.20" stroke="#ff0000" stroke-width="1.5"/>
<text x="402.60" y="449.75" font-size="10.2" textLength="39.2" lengthAdjust="spacingAndGlyphs" fill="#2a2a2a">1980-1989</text>
<path d="M381.20,456.90H400.20" stroke="#ff0000" stroke-width="1.5" stroke-dasharray="5.5,4.5"/>
<text x="402.60" y="460.40" font-size="10.2" textLength="39.2" lengthAdjust="spacingAndGlyphs" fill="#2a2a2a">1990-1999</text>
<path d="M381.20,467.55H400.20" stroke="#0000ff" stroke-width="1.5"/>
<text x="402.60" y="471.05" font-size="10.2" textLength="39.2" lengthAdjust="spacingAndGlyphs" fill="#2a2a2a">2000-2009</text>
<path d="M381.20,478.20H400.20" stroke="#0000ff" stroke-width="1.5" stroke-dasharray="5.5,4.5"/>
<text x="402.60" y="481.70" font-size="10.2" textLength="39.2" lengthAdjust="spacingAndGlyphs" fill="#2a2a2a">2010-2019</text>
<text x="0" y="9.8" font-size="14.5" fill="#111">a)</text>
<text x="344" y="9.8" font-size="14.5" fill="#111">b)</text>
<text x="0" y="181.0" font-size="14.5" fill="#111">c)</text>
<text x="344" y="181.0" font-size="14.5" fill="#111">d)</text>
<text x="0" y="351.8" font-size="14.5" fill="#111">e)</text>
<text x="344" y="351.8" font-size="14.5" fill="#111">f)</text>
<text x="68.4" y="26.3" font-size="15" fill="#000">EGC</text>
<text x="412" y="26.3" font-size="15" fill="#000">EGC</text>
<text x="68" y="197" font-size="15" fill="#000">SB</text>
<text x="412" y="197" font-size="15" fill="#000">SB</text>
<text x="68" y="368" font-size="15" fill="#000">BSB</text>
<text x="412" y="368" font-size="15" fill="#000">BSB</text>
</svg></body></html>
